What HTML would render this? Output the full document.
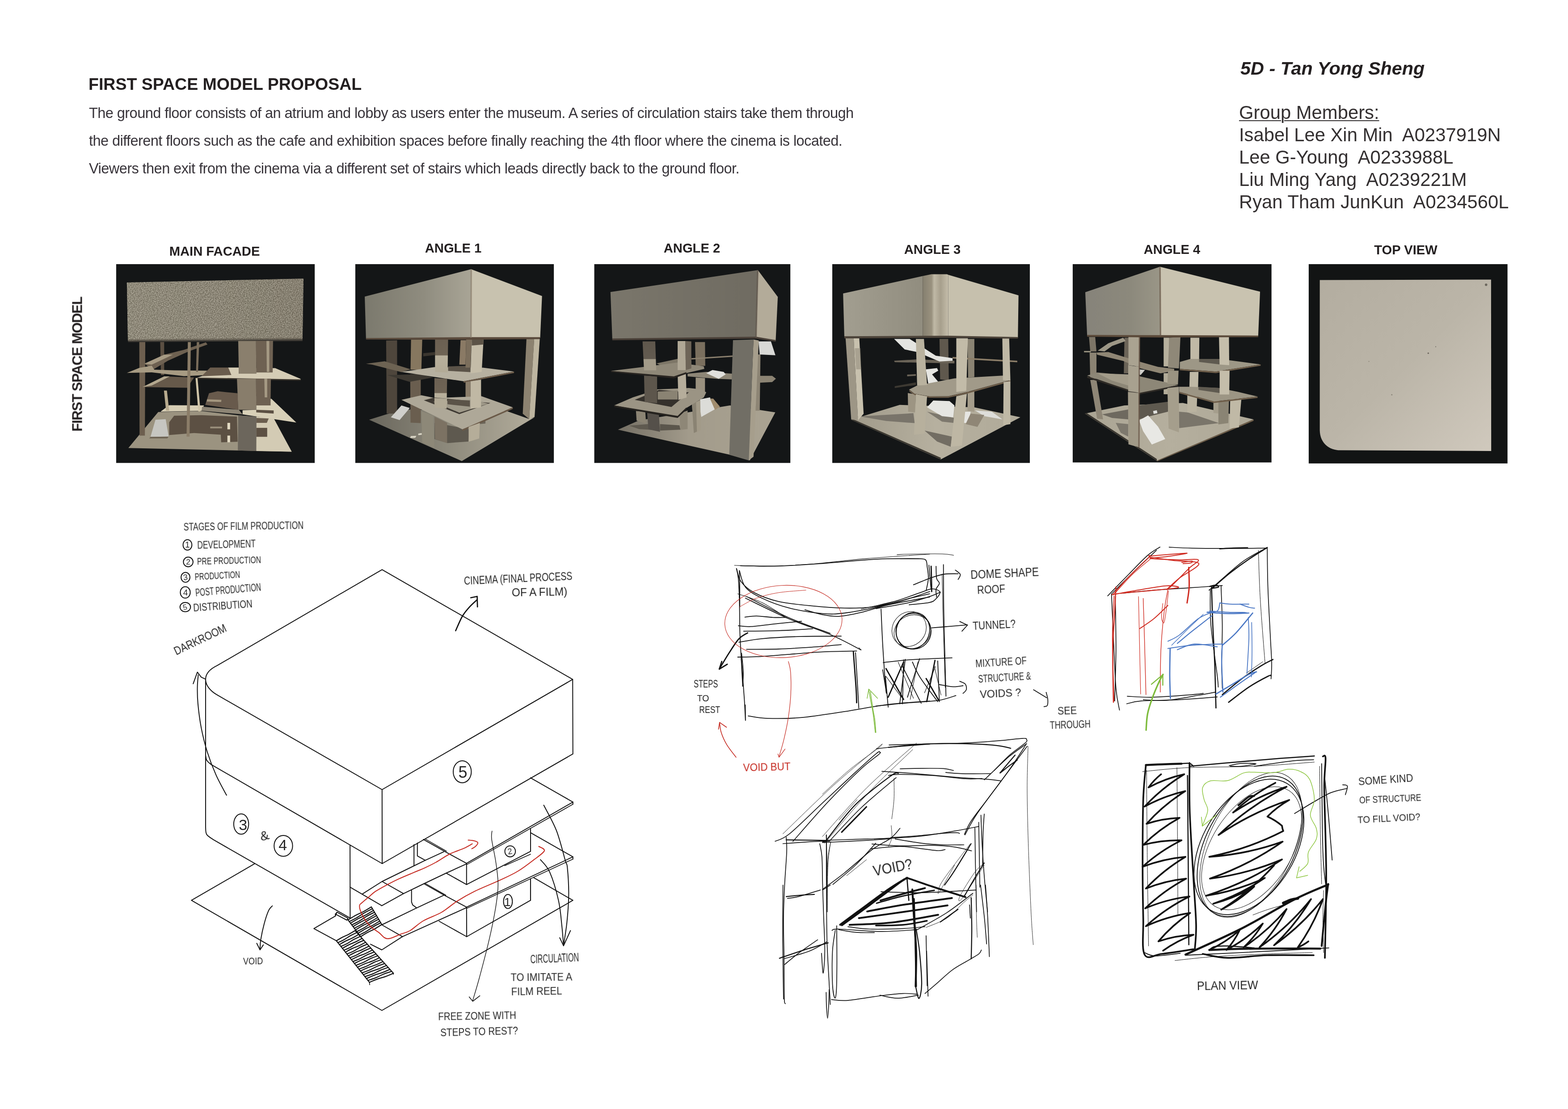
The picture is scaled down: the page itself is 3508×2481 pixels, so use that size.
<!DOCTYPE html>
<html lang="en">
<head>
<meta charset="utf-8">
<title>First Space Model Proposal</title>
<style>
html,body{margin:0;padding:0;background:#fff;}
body{width:3508px;height:2481px;position:relative;font-family:"Liberation Sans",sans-serif;color:#231f20;}
#page{position:absolute;left:0;top:0;width:3508px;height:2481px;overflow:hidden;background:#fff;}
.t{position:absolute;white-space:nowrap;margin:0;padding:0;line-height:1;will-change:transform;}
svg text{will-change:transform;}
.b{font-weight:bold;}
.lab{font-weight:bold;font-size:29.2px;text-align:center;width:400px;}
svg{position:absolute;overflow:hidden;display:block;}
</style>
</head>
<body>
<div id="page">

<h1 class="t b" style="left:198px;top:168px;font-size:37.5px;line-height:40px;">FIRST SPACE MODEL PROPOSAL</h1>
<p class="t" style="color:#38343a;left:199px;top:222.3px;font-size:32.6px;line-height:62.2px;letter-spacing:-0.59px;">The ground floor consists of an atrium and lobby as users enter the museum. A series of circulation stairs take them through<br>the different floors such as the cafe and exhibition spaces before finally reaching the 4th floor where the cinema is located.<br>Viewers then exit from the cinema via a different set of stairs which leads directly back to the ground floor.</p>
<div class="t b" style="left:2775px;top:127.5px;font-size:41.4px;line-height:50px;font-style:italic;">5D - Tan Yong Sheng</div>
<div class="t" style="color:#343031;left:2772.3px;top:227px;font-size:41.8px;line-height:50px;"><span style="text-decoration:underline;text-decoration-thickness:2px;text-underline-offset:3px;">Group Members:</span><br>Isabel Lee Xin Min&nbsp; A0237919N<br>Lee G-Young&nbsp; A0233988L<br>Liu Ming Yang&nbsp; A0239221M<br>Ryan Tham JunKun&nbsp; A0234560L</div>
<div class="t lab" style="left:280px;top:547.5px;">MAIN FACADE</div>
<div class="t lab" style="left:814px;top:541.4px;">ANGLE 1</div>
<div class="t lab" style="left:1348px;top:541px;">ANGLE 2</div>
<div class="t lab" style="left:1886px;top:544px;">ANGLE 3</div>
<div class="t lab" style="left:2422px;top:544px;">ANGLE 4</div>
<div class="t lab" style="left:2945px;top:545px;">TOP VIEW</div>
<div class="t b" style="left:22.5px;top:799.5px;width:300px;text-align:center;font-size:31px;letter-spacing:-1.3px;transform:rotate(-90deg);transform-origin:50% 50%;">FIRST SPACE MODEL</div>

<svg style="left:256px;top:587px;width:452px;height:452px;" viewBox="0 0 1624 1624">
<defs>
<filter id="grain" x="0" y="0" width="100%" height="100%" color-interpolation-filters="sRGB">
<feTurbulence type="fractalNoise" baseFrequency="0.16" numOctaves="2" seed="3" result="n"/>
<feColorMatrix in="n" type="matrix" values="1.5 0 0 0 -0.2  1.5 0 0 0 -0.225  1.5 0 0 0 -0.285  0 0 0 0 0.45" result="g"/>
<feComposite in="g" in2="SourceGraphic" operator="in" result="g2"/>
<feMerge><feMergeNode in="SourceGraphic"/><feMergeNode in="g2"/></feMerge>
</filter>
<linearGradient id="p1box" x1="0" y1="0" x2="1" y2="0"><stop offset="0" stop-color="#938e7f"/><stop offset="0.5" stop-color="#8c8778"/><stop offset="1" stop-color="#827c6d"/></linearGradient>
</defs>
<rect x="14" y="14" width="1596" height="1598" fill="#141617"/>
<!-- ground -->
<polygon points="112,1492 352,1203 700,1195 1000,1230 1275,1250 1425,1522" fill="#9b9380"/>
<polygon points="1140,1240 1280,1252 1425,1522 1140,1516" fill="#d3cbb4"/>
<polygon points="370,1200 700,1193 720,1150 440,1148" fill="#d6cdb4"/>
<polygon points="440,1285 480,1232 700,1228 985,1240 990,1442 858,1446 855,1385 640,1372 440,1388" fill="#5c5043"/>
<polygon points="1140,1330 1228,1330 1228,1402 1140,1402" fill="#5c5043"/>
<polygon points="1140,1250 1240,1255 1225,1290 1140,1290" fill="#6a5d4e"/>
<rect x="908" y="1290" width="22" height="52" fill="#e2dac2"/>
<rect x="908" y="1392" width="22" height="54" fill="#e2dac2"/>
<rect x="770" y="1320" width="95" height="14" fill="#9a8f7b"/>
<polygon points="330,1265 412,1260 436,1400 290,1402" fill="#c6c6c1"/>
<polygon points="290,1402 436,1400 425,1415 280,1415" fill="#6e6455"/>
<!-- columns -->
<polygon points="200,640 248,640 245,1392 202,1392" fill="#6d5f4f"/>
<polygon points="368,640 400,640 400,905 374,905" fill="#5b4f42"/>
<polygon points="398,1030 422,1030 440,1192 415,1192" fill="#b8ab8f"/>
<!-- ramps / slabs left -->
<polygon points="240,815 400,742 560,702 735,642 748,660 600,714 430,790 310,862" fill="#6e6151"/>
<polygon points="240,815 400,742 470,742 300,822" fill="#a79b84"/>
<polygon points="100,888 200,848 300,830 320,862 480,868 750,870 745,905 560,914 300,884" fill="#a79b83"/>
<polygon points="225,1002 400,916 640,925 585,1008" fill="#66594a"/>
<polygon points="225,1002 400,916 445,916 300,990" fill="#b3a88f"/>
<!-- lower slab -->
<polygon points="730,1145 760,1052 830,1036 990,1052 995,1185 860,1165" fill="#685a4c"/>
<polygon points="745,1100 860,1105 858,1122 742,1118" fill="#a4977f"/>
<polygon points="705,1160 1000,1185 1030,1222 700,1192" fill="#8d8575"/>
<polygon points="1030,1188 1140,1185 1140,1075 1262,1097 1462,1287 1030,1222" fill="#d8d0b8"/>
<polygon points="1140,1118 1250,1118 1255,1150 1140,1150" fill="#6a5d4e"/>
<polygon points="1140,1185 1280,1190 1280,1215 1140,1205" fill="#5c5043"/>
<!-- upper slab right -->
<polygon points="700,915 770,845 920,845 945,915" fill="#6a5c4d"/>
<polygon points="915,845 1000,845 1000,895 1140,895 1140,850 1292,850 1496,936 1496,946 660,928 700,915 940,905" fill="#d5ccb5"/>
<polygon points="660,926 1496,940 1496,950 660,936" fill="#3a342c"/>
<!-- right wall + big column -->
<polygon points="1138,630 1275,630 1272,885 1140,885" fill="#6e6152"/>
<polygon points="1222,630 1245,630 1245,880 1225,880" fill="#a59a84"/>
<polygon points="995,630 1138,630 1140,895 1000,895" fill="#8a7f6d"/>
<polygon points="1138,935 1258,935 1255,1150 1140,1150" fill="#6e6152"/>
<polygon points="1205,935 1228,935 1228,1085 1208,1085" fill="#a59a84"/>
<polygon points="985,935 1138,935 1140,1185 995,1185" fill="#887d6b"/>
<polygon points="995,1230 1142,1240 1140,1516 992,1512" fill="#6c665c"/>
<!-- thin posts -->
<polygon points="590,640 614,640 604,1400 580,1400" fill="#8b7d68"/>
<polygon points="662,640 682,640 672,880 656,880" fill="#7a6d5b"/>
<polygon points="652,930 668,930 692,1197 674,1197" fill="#d0c5a9"/>
<!-- box -->
<polygon points="100,162 1520,130 1512,618 108,630" fill="url(#p1box)" filter="url(#grain)"/>
<polygon points="108,618 1512,606 1512,632 110,640" fill="#5e574b" opacity="0.6"/>
</svg>

<svg style="left:791px;top:587px;width:452px;height:452px;" viewBox="0 0 1624 1624">
<defs>
<linearGradient id="p2l" x1="0" y1="0" x2="1" y2="0"><stop offset="0" stop-color="#7b796d"/><stop offset="0.55" stop-color="#8f8c7f"/><stop offset="1" stop-color="#a9a596"/></linearGradient>
<linearGradient id="p2g" x1="0" y1="0" x2="1" y2="0"><stop offset="0" stop-color="#6a675d"/><stop offset="0.5" stop-color="#8f8b7d"/><stop offset="1" stop-color="#b3ad9c"/></linearGradient>
<linearGradient id="p2c" x1="0" y1="0" x2="0" y2="1"><stop offset="0" stop-color="#6b6052"/><stop offset="0.48" stop-color="#6f6455"/><stop offset="0.5" stop-color="#b8b09c"/><stop offset="1" stop-color="#b2aa96"/></linearGradient>
</defs>
<rect x="14" y="14" width="1596" height="1598" fill="#141617"/>
<!-- ground -->
<polygon points="125,1265 390,1182 1230,1195 1410,1258 1455,1245 870,1597" fill="url(#p2g)"/>
<polygon points="650,1290 930,1340 925,1440 755,1452 650,1420" fill="#5e594f"/>
<polygon points="1010,1270 1060,1265 1060,1295 1010,1300" fill="#6b6458"/>
<polygon points="460,1396 505,1394 496,1410 455,1411" fill="#d8d4c4"/>
<polygon points="520,1376 548,1372 548,1386 520,1389" fill="#d8d4c4"/>
<!-- back columns -->
<polygon points="262,628 350,626 350,1215 266,1215" fill="#4e463c"/>
<polygon points="462,622 552,622 545,862 458,862" fill="#86775f"/>
<polygon points="455,900 540,900 540,1292 458,1288" fill="#6a5e4f"/>
<polygon points="860,625 905,625 900,822 850,822" fill="#8a7a65"/>
<polygon points="560,730 655,720 655,745 560,755" fill="#3a352e"/>
<!-- stairs -->
<polygon points="300,1245 385,1150 452,1170 370,1267" fill="#cfcfcb"/>
<!-- ramp left -->
<polygon points="100,815 250,795 460,860 385,882 150,822" fill="#6d6353"/>
<polygon points="270,905 540,900 640,925 450,960" fill="#3d3932"/>
<!-- upper slab -->
<polygon points="385,880 650,842 1040,846 1290,878 885,956" fill="#b6b0a0"/>
<polygon points="760,836 940,830 940,882 760,872" fill="#5b5348"/>
<polygon points="885,956 1290,878 1290,889 885,967" fill="#6b5a48"/>
<!-- center column upper -->
<polygon points="655,615 760,615 756,886 655,880" fill="url(#p2c)"/>
<!-- right front column upper -->
<polygon points="905,615 950,615 940,846 900,846" fill="#7b6e5c"/>
<polygon points="950,615 1045,615 1030,880 940,892" fill="#c4bca8"/>
<polygon points="950,615 1045,615 1043,660 950,668" fill="#5c5347"/>
<!-- mid columns -->
<polygon points="650,930 752,936 748,1176 650,1166" fill="url(#p2c)"/>
<polygon points="900,962 940,956 940,1082 900,1082" fill="#8a7d6a"/>
<polygon points="940,956 1025,942 1025,1166 940,1176" fill="#c0b8a4"/>
<!-- lower slab -->
<polygon points="385,1105 545,1068 650,1090 1030,1076 1280,1165 875,1342" fill="#aea898"/>
<polygon points="565,1108 650,1086 1100,1130 850,1220" fill="#3f3a33"/>
<polygon points="640,1120 940,1102 1085,1135 850,1208" fill="#9e9888"/>
<polygon points="755,1100 935,1110 935,1160 755,1140" fill="#5b5348"/>
<polygon points="875,1342 1280,1165 1280,1178 875,1356" fill="#6b5a48"/>
<polygon points="650,1090 752,1096 748,1176 650,1166" fill="#b2aa96"/>
<polygon points="940,1080 1025,1070 1025,1166 940,1176" fill="#c0b8a4"/>
<!-- low columns -->
<polygon points="650,1240 752,1290 752,1452 655,1420" fill="#7c7263"/>
<polygon points="925,1322 1015,1290 1010,1416 925,1442" fill="#b5ad99"/>
<polygon points="545,1195 640,1232 650,1492 552,1446" fill="#8d8878"/>
<!-- right tall wall -->
<polygon points="1390,615 1452,615 1412,1260 1360,1216" fill="#8c8270"/>
<polygon points="1452,615 1497,615 1455,1242 1412,1260" fill="#bdb5a0"/>
<!-- box -->
<polygon points="90,275 945,55 945,606 100,613" fill="url(#p2l)"/>
<polygon points="945,55 1515,270 1500,606 945,606" fill="#c8c2af"/>
<polygon points="100,608 945,601 1500,601 1496,616 945,622 100,620" fill="#5a4a3c"/>
<polygon points="940,55 952,58 950,606 938,606" fill="#8a7d6c" opacity="0.7"/>
</svg>

<svg style="left:1324px;top:587px;width:452px;height:452px;" viewBox="0 0 1624 1624">
<defs>
<linearGradient id="p3f" x1="0" y1="0" x2="1" y2="0"><stop offset="0" stop-color="#7a766b"/><stop offset="1" stop-color="#6f6b61"/></linearGradient>
<linearGradient id="p3g" x1="0" y1="0" x2="1" y2="0"><stop offset="0" stop-color="#746f64"/><stop offset="0.45" stop-color="#a29b8b"/><stop offset="1" stop-color="#aaa392"/></linearGradient>
<linearGradient id="p3c" x1="0" y1="0" x2="0" y2="1"><stop offset="0" stop-color="#5f574c"/><stop offset="0.6" stop-color="#635b50"/><stop offset="0.62" stop-color="#a39b89"/><stop offset="1" stop-color="#a39b89"/></linearGradient>
</defs>
<rect x="20" y="14" width="1576" height="1598" fill="#141617"/>
<!-- ground -->
<polygon points="210,1345 380,1270 1110,1150 1475,1205 1270,1592 1105,1545" fill="url(#p3g)"/>
<polygon points="300,1312 450,1300 548,1350 380,1340" fill="#5f5a50"/>
<polygon points="548,1300 705,1310 712,1345 548,1352" fill="#5b564c"/>
<!-- back right column / balcony / stairs -->
<polygon points="1330,740 1356,740 1350,1192 1315,1192" fill="#8d8575"/>
<polygon points="1325,912 1450,912 1480,935 1450,962 1325,968" fill="#8b8373"/>
<polygon points="1340,635 1440,635 1476,746 1350,740" fill="#d9d9d6"/>
<!-- back columns -->
<polygon points="830,640 910,640 912,832 835,832" fill="#7a6f5e"/>
<polygon points="835,925 910,930 910,1042 835,1032" fill="#9a917f"/>
<polygon points="800,770 1135,748 1135,759 800,781" fill="#8b806e"/>
<!-- mid right slab and stairs -->
<polygon points="770,895 920,880 1130,895 1130,940 1010,936 770,916" fill="#8d8676"/>
<polygon points="920,890 970,865 1060,880 1076,900 1020,936" fill="#e0e0dc"/>
<!-- lower stairs -->
<polygon points="870,1100 950,1085 990,1180 880,1242 865,1150" fill="#dcdcd8"/>
<polygon points="950,1095 976,1095 1030,1160 990,1186" fill="#a08c6e"/>
<!-- low columns -->
<polygon points="355,1195 430,1200 436,1296 360,1272" fill="#8b8474"/>
<polygon points="705,1215 770,1190 770,1340 712,1346" fill="#8e8777"/>
<polygon points="805,1140 872,1105 876,1350 820,1372" fill="#a29a88"/>
<polygon points="805,1140 838,1122 845,1360 820,1372" fill="#8a8373"/>
<!-- lower slab -->
<polygon points="180,1150 330,1085 530,1020 780,1010 880,1020 920,1045 900,1086 760,1170 690,1242" fill="#9b9484"/>
<polygon points="345,1105 540,1025 780,1045 640,1162" fill="#35312c"/>
<polygon points="530,1038 690,1030 690,1102 530,1102" fill="#8a8373"/>
<polygon points="180,1150 690,1234 760,1166 762,1182 690,1250 180,1162" fill="#26231f"/>
<polygon points="445,1210 540,1226 548,1362 455,1342" fill="#55504a"/>
<!-- mid columns -->
<polygon points="420,910 525,916 525,1132 425,1122" fill="#5d564c"/>
<polygon points="690,900 756,895 762,1086 696,1106" fill="#b5ad9b"/>
<!-- upper slab -->
<polygon points="520,812 690,775 800,790 800,830 600,850" fill="#7d7667"/>
<polygon points="155,872 420,840 690,805 900,835 905,856 760,890 660,926" fill="#8f8878"/>
<polygon points="155,872 660,916 760,882 760,896 660,932 155,881" fill="#2a2622"/>
<!-- upper columns -->
<polygon points="408,635 510,635 518,868 420,868" fill="url(#p3c)"/>
<polygon points="752,632 800,635 800,852 755,866" fill="#6e6558"/>
<polygon points="690,632 752,632 755,866 690,866" fill="#b0a896"/>
<!-- big right wall -->
<polygon points="1300,620 1342,628 1300,1562 1260,1592" fill="#a69e8c"/>
<polygon points="1135,625 1300,620 1262,1592 1105,1546" fill="#716e65"/>
<!-- box -->
<polygon points="150,238 1335,62 1320,606 165,621" fill="url(#p3f)"/>
<polygon points="1335,62 1495,278 1478,631 1320,606" fill="#b3ab99"/>
<polygon points="165,612 1320,597 1478,624 1478,637 1320,613 165,626" fill="#4a4038"/>
<polygon points="1328,62 1340,64 1326,606 1314,606" fill="#5c5248" opacity="0.7"/>
</svg>

<svg style="left:1857px;top:587px;width:452px;height:452px;" viewBox="0 0 1624 1624">
<defs>
<linearGradient id="p4l" x1="0" y1="0" x2="1" y2="0"><stop offset="0" stop-color="#a29e90"/><stop offset="1" stop-color="#918d7f"/></linearGradient>
<linearGradient id="p4k" x1="0" y1="0" x2="1" y2="0"><stop offset="0" stop-color="#857f6f"/><stop offset="0.35" stop-color="#9a927f"/><stop offset="0.45" stop-color="#c0b9a6"/><stop offset="0.7" stop-color="#a79f8c"/><stop offset="1" stop-color="#c4bdaa"/></linearGradient>
<linearGradient id="p4g" x1="0" y1="0" x2="1" y2="0"><stop offset="0" stop-color="#a09a8a"/><stop offset="0.5" stop-color="#b6b09f"/><stop offset="1" stop-color="#b0aa99"/></linearGradient>
</defs>
<rect x="18" y="14" width="1588" height="1598" fill="#141617"/>
<!-- ground -->
<polygon points="170,1265 560,1145 1160,1165 1530,1245 890,1584" fill="url(#p4g)"/>
<polygon points="170,1265 890,1584 890,1570 180,1258" fill="#3a362f"/>
<polygon points="240,1238 670,1212 680,1292 450,1275" fill="#79746a"/>
<polygon points="760,1352 980,1400 970,1482 860,1440" fill="#726d63"/>
<polygon points="780,1200 1000,1250 1080,1300 900,1280" fill="#7d786d"/>
<!-- back columns -->
<polygon points="880,615 950,615 955,950 885,940" fill="#5f584d"/>
<polygon points="1105,615 1160,615 1160,922 1110,926" fill="#8a8373"/>
<polygon points="1105,1040 1160,1035 1160,1202 1105,1192" fill="#a59d8b"/>
<polygon points="625,1050 690,1060 686,1206 628,1200" fill="#9d9583"/>
<!-- thin slabs -->
<polygon points="515,790 700,780 1000,790 1000,812 520,802" fill="#6b6458"/>
<polygon points="520,995 690,965 690,985 520,1010" fill="#3d3932"/>
<polygon points="620,902 690,898 690,912 620,916" fill="#6b6458"/>
<!-- stairs -->
<polygon points="515,615 640,615 850,750 985,770 985,790 880,797 700,720 600,700" fill="#e4e4e0"/>
<polygon points="770,860 860,850 870,870 820,900 870,960 790,976" fill="#e6e6e2"/>
<polygon points="780,1165 830,1110 960,1115 1000,1150 990,1246 900,1236" fill="#e6e6e2"/>
<polygon points="1080,1200 1130,1200 1120,1292 1075,1290" fill="#e6e6e2"/>
<polygon points="1165,1190 1300,1200 1386,1262 1240,1236" fill="#dededa"/>
<polygon points="1130,1215 1240,1226 1185,1322 1090,1300" fill="#8f8676"/>
<!-- mid slab -->
<polygon points="635,1022 700,990 1000,932 1390,910 1450,946 1100,1042 950,1076 800,1077 680,1056" fill="#a19a89"/>
<polygon points="635,1026 680,1056 800,1078 950,1077 1100,1043 1450,947 1450,958 1100,1055 950,1088 800,1088 680,1066 640,1040" fill="#6f5e4a"/>
<polygon points="985,760 1505,790 1505,803 985,773" fill="#8b7d68"/>
<!-- columns -->
<polygon points="690,615 755,615 780,985 700,990" fill="#b9b29f"/>
<polygon points="690,1060 780,1076 760,1376 675,1386" fill="#b7b09d"/>
<polygon points="1015,610 1108,610 1095,1032 1015,1042" fill="#c2bba8"/>
<polygon points="1015,1076 1100,1056 1060,1472 970,1482" fill="#beb7a4"/>
<polygon points="1385,612 1440,612 1450,950 1390,946" fill="#bfb8a5"/>
<polygon points="1395,962 1450,956 1450,1300 1392,1310" fill="#bfb8a5"/>
<!-- left wall -->
<polygon points="125,610 190,610 225,1270 170,1262" fill="#9d9686"/>
<polygon points="190,610 235,610 270,1216 225,1270" fill="#c8c1ae"/>
<polygon points="200,690 245,690 250,860 210,860" fill="#8a8373" opacity="0.5"/>
<!-- box -->
<polygon points="105,250 745,110 745,592 115,600" fill="url(#p4l)"/>
<polygon points="745,110 815,95 940,95 950,100 950,594 745,592" fill="url(#p4k)"/>
<polygon points="950,100 1515,265 1510,606 950,596" fill="#c6c0ad"/>
<polygon points="115,594 950,589 1510,600 1510,613 950,606 115,611" fill="#4d443a"/>
</svg>

<svg style="left:2396px;top:587px;width:452px;height:452px;" viewBox="0 0 1624 1624">
<defs>
<linearGradient id="p5l" x1="0" y1="0" x2="1" y2="0"><stop offset="0" stop-color="#86837a"/><stop offset="0.6" stop-color="#8c897c"/><stop offset="1" stop-color="#9a9687"/></linearGradient>
<linearGradient id="p5g" x1="0" y1="0" x2="1" y2="0"><stop offset="0" stop-color="#aaa493"/><stop offset="0.5" stop-color="#b5af9e"/><stop offset="1" stop-color="#aea897"/></linearGradient>
</defs>
<rect x="14" y="14" width="1598" height="1594" fill="#141617"/>
<!-- ground -->
<polygon points="112,1215 430,1150 900,1130 1468,1262 690,1594" fill="url(#p5g)"/>
<polygon points="112,1215 690,1594 690,1580 125,1210" fill="#3a362f"/>
<polygon points="690,1594 1468,1262 1468,1274 692,1600" fill="#6f5e4a"/>
<polygon points="250,1222 460,1182 462,1262 330,1250" fill="#6e695f"/>
<polygon points="545,1150 780,1120 780,1200 660,1230 548,1262" fill="#5e594f"/>
<polygon points="868,1200 940,1206 1190,1292 870,1332" fill="#7a756a"/>
<polygon points="360,1290 460,1300 460,1400 400,1370" fill="#7d786d"/>
<!-- far-left columns -->
<polygon points="145,600 195,600 205,716 155,716" fill="#7d7566"/>
<polygon points="150,725 205,725 205,936 155,936" fill="#8b8373"/>
<polygon points="155,945 205,945 258,1262 210,1256" fill="#8e8676"/>
<polygon points="430,605 466,605 466,892 425,892" fill="#6b6458"/>
<polygon points="215,710 300,650 420,605 440,632 330,672 270,716" fill="#9d9786"/>
<polygon points="105,712 160,712 160,723 105,723" fill="#9a9482"/>
<!-- back right columns -->
<polygon points="960,605 1032,605 1030,796 960,796" fill="#c0b9a6"/>
<polygon points="955,880 1025,880 1022,1002 952,1002" fill="#bfb8a5"/>
<polygon points="935,1060 1015,1066 1010,1200 935,1206" fill="#bab3a0"/>
<polygon points="1145,1110 1190,1110 1190,1215 1145,1210" fill="#a59e8c"/>
<polygon points="1185,1116 1270,1110 1265,1292 1185,1302" fill="#8a8474"/>
<polygon points="1280,1100 1370,1096 1350,1326 1275,1336" fill="#c0b9a6"/>
<!-- center back -->
<polygon points="745,605 790,605 790,836 745,836" fill="#b7b09d"/>
<polygon points="745,890 790,890 790,1060 745,1060" fill="#b2ab98"/>
<!-- right upper slab -->
<polygon points="875,800 960,776 1195,776 1525,820 1165,878 875,856" fill="#9d9786"/>
<polygon points="1030,776 1195,776 1195,820 1030,800" fill="#5f5a50"/>
<polygon points="875,856 1165,878 1525,820 1525,831 1165,890 875,867" fill="#6f5e4a"/>
<polygon points="1190,600 1270,600 1272,826 1195,821" fill="#c5beab"/>
<!-- right lower slab -->
<polygon points="870,1000 960,1000 1190,1010 1340,1040 1500,1078 1150,1118 870,1040" fill="#9c9584"/>
<polygon points="1025,1000 1195,1010 1195,1050 1025,1025" fill="#5f5a50"/>
<polygon points="870,1040 1150,1118 1500,1078 1500,1090 1150,1130 870,1052" fill="#6f5e4a"/>
<polygon points="1195,870 1275,870 1272,1062 1195,1062" fill="#c4bdaa"/>
<!-- ramp -->
<polygon points="205,725 300,720 460,770 560,800 700,840 830,855 830,871 720,892 560,852 420,792 210,742" fill="#8f8674"/>
<!-- mid-left slab -->
<polygon points="130,910 210,885 555,916 860,986 545,1056" fill="#8d8777"/>
<polygon points="215,892 460,900 460,990 330,950" fill="#a39c8a"/>
<polygon points="130,914 545,1050 860,986 860,999 545,1063 130,928" fill="#2f2b26"/>
<!-- center columns -->
<polygon points="790,605 880,600 868,852 780,846" fill="#8f8878"/>
<polygon points="780,870 865,870 860,982 775,976" fill="#9a9381"/>
<polygon points="775,1010 868,1000 868,1366 785,1336" fill="#a59e8c"/>
<!-- stairs -->
<polygon points="548,1270 620,1230 700,1320 758,1420 650,1464 580,1356" fill="#e8e8e4"/>
<polygon points="660,1195 690,1188 695,1212 665,1218" fill="#e0e0dc"/>
<polygon points="548,860 595,865 560,905 548,900" fill="#cfcfcb"/>
<!-- front-left big column -->
<polygon points="462,600 552,600 550,836 462,826" fill="#aaa391"/>
<polygon points="460,826 548,840 548,1046 460,1036" fill="#a8a18f"/>
<polygon points="458,1040 545,1050 545,1486 462,1462" fill="#a19a88"/>
<polygon points="545,600 556,600 552,1486 541,1486" fill="#6a5848" opacity="0.8"/>
<!-- box -->
<polygon points="115,240 715,35 720,590 130,588" fill="url(#p5l)"/>
<polygon points="715,35 1520,235 1505,592 720,590" fill="#c9c3b0"/>
<polygon points="130,583 720,585 1505,588 1505,601 720,604 130,597" fill="#5b4a3a"/>
<polygon points="710,36 722,38 726,590 714,590" fill="#6a5848" opacity="0.7"/>
</svg>

<svg style="left:2924px;top:587px;width:452px;height:452px;" viewBox="0 0 1624 1624">
<defs>
<linearGradient id="p6c" x1="0" y1="0" x2="1" y2="1"><stop offset="0" stop-color="#b3ada0"/><stop offset="0.5" stop-color="#bbb5a8"/><stop offset="1" stop-color="#d0c9bd"/></linearGradient>
</defs>
<rect x="14" y="14" width="1598" height="1602" fill="#121414"/>
<path d="M103,142 L1480,138 L1481,1516 L250,1510 C160,1500 105,1440 103,1350 Z" fill="url(#p6c)"/>
<circle cx="1440" cy="180" r="10" fill="#6b665d"/>
<circle cx="975" cy="730" r="6" fill="#6b665d"/>
<circle cx="1035" cy="678" r="4" fill="#77726a"/>
<circle cx="498" cy="796" r="4" fill="#8a8478"/>
<circle cx="682" cy="1064" r="5" fill="#8a8478"/>
</svg>

<svg style="left:340px;top:1120px;width:1140px;height:1300px;" viewBox="340 1120 1140 1300" fill="none" stroke-linecap="round" stroke-linejoin="round" font-family="'Liberation Sans',sans-serif" stroke="none">
<path d="M485.9,1488.9 L854.8,1274.4 L1281.2,1519.9 L854.8,1766.5 L485.9,1554.7 C468.7,1544.8 460,1532 460,1519.7 C460,1507.1 468.7,1497.2 485.9,1488.9" stroke="#111" stroke-width="2"/>
<path d="M1281.2,1519.9 L1281.7,1686.7 L855,1932 L854.8,1766.5" stroke="#111" stroke-width="2"/>
<path d="M460,1689.6 C460.4,1691.5 460.6,1697.3 462.5,1700.7 C464.4,1704.1 470.1,1708.3 471.6,1709.8 L855,1932" stroke="#111" stroke-width="2"/>
<path d="M460,1519.7 L460,1850.9  C460.4,1853.6 459.4,1862.2 462.5,1866.9 C465.6,1871.7 475.8,1877.2 478.5,1879.2 L783.4,2053.9" stroke="#111" stroke-width="2"/>
<path d="M783.1,1891.2 L783.4,2053.9" stroke="#111" stroke-width="2"/>
<path d="M569.9,1932.2 L428.3,2014.2 L854.4,2260.5 L1281.7,2014.2 L1194.3,1963.7" stroke="#111" stroke-width="2"/>
<path d="M750.2,2049.3 L702.2,2077.3 L752.6,2104.7" stroke="#111" stroke-width="2"/>
<path d="M829,2112.3 L854.2,2125 L900.4,2095.4" stroke="#111" stroke-width="2"/>
<path d="M900.4,2095.4 L1043.8,2030.5" stroke="#111" stroke-width="2"/>
<path d="M854.2,2069 L900.4,2095.4" stroke="#111" stroke-width="2"/>
<path d="M750.2,2049.3 L753.9,2040.6 L778.5,2054.2 L776,2058.5 L750.2,2044.9" stroke="#111" stroke-width="2"/>
<path d="M753.9,2040.6 L750.2,2044.9 L750.2,2049.3" stroke="#111" stroke-width="1.6"/>
<path d="M1186.9,1740.1 L1281.7,1794.3 L1281.7,1799.2" stroke="#111" stroke-width="2"/>
<path d="M1281.7,1794.3 L1043.8,1931.4" stroke="#111" stroke-width="2"/>
<path d="M1281.7,1799.2 L1045,1933.9" stroke="#111" stroke-width="1.6"/>
<path d="M947.1,1877.9 L995.1,1904.9 L1043.8,1931.4" stroke="#111" stroke-width="2"/>
<path d="M950.8,1876.6 L998.8,1904.3" stroke="#111" stroke-width="1.6"/>
<path d="M998.8,1953.6 L1043.8,1978.8 L1043.8,1932" stroke="#111" stroke-width="2"/>
<path d="M1043.8,1978.8 L1187,1904.7 L1187,1854.2" stroke="#111" stroke-width="2"/>
<path d="M1129.1,1936.7 L1187,1910.9" stroke="#111" stroke-width="1.6"/>
<path d="M926.2,1889.6 L926.2,1937" stroke="#111" stroke-width="2"/>
<path d="M933.8,1885.9 L933.8,1914.8 L951.4,1924.6" stroke="#111" stroke-width="2"/>
<path d="M810.9,1999.8 L854.8,1972 L926.2,1937 L951.4,1924.6 L992.7,1905.6" stroke="#111" stroke-width="2"/>
<path d="M854.2,2026.2 L902.8,1999.1 L948.4,1977 L998.8,1953 L1043.8,1932.6" stroke="#111" stroke-width="2"/>
<path d="M854.8,1972 L902.8,1999.1" stroke="#111" stroke-width="2"/>
<path d="M783.1,1984.7 L854.2,2026.2" stroke="#111" stroke-width="2"/>
<path d="M1187,1862.8 L1281.7,1916.9 L1281.7,1921.9" stroke="#111" stroke-width="2"/>
<path d="M1281.7,1916.9 L1043.8,2029.3" stroke="#111" stroke-width="2"/>
<path d="M1281.7,1921.9 L1045,2031.8" stroke="#111" stroke-width="1.6"/>
<path d="M948.4,1977 L995.1,2003.4 L1043.8,2029.3" stroke="#111" stroke-width="2"/>
<path d="M951.4,1976.4 L997.6,2002.8" stroke="#111" stroke-width="1.6"/>
<path d="M982.5,2061 L1044.1,2095.5 L1043.8,2029.9" stroke="#111" stroke-width="2"/>
<path d="M1044.1,2095.5 L1186.9,2014.2 L1186.9,1966.2" stroke="#111" stroke-width="2"/>
<path d="M920.7,1991.1 L920.7,2017.6 L923.1,2024.4 L932.3,2031.2" stroke="#111" stroke-width="2"/>
<path d="M854.2,2069 L932.3,2031.2 L992.7,2002.8" stroke="#111" stroke-width="2"/>
<path d="M1187,1966.3 L1187,2014.3" stroke="#111" stroke-width="2"/>
<path d="M778.5,2057.9 C781.4,2056.2 790,2050.8 795.8,2047.7 C801.5,2044.6 807.2,2042.5 813,2039.4 C818.9,2036.3 827.9,2030.7 830.8,2028.9" stroke="#111" stroke-width="2.3"/>
<path d="M781.3,2061.6 C784.2,2060.2 792.7,2056.2 798.4,2052.9 C804.1,2049.6 809.8,2045.2 815.6,2041.9 C821.3,2038.6 830.2,2034.4 833.2,2032.9" stroke="#111" stroke-width="2.3"/>
<path d="M784.2,2065.4 C787,2063.7 795.5,2058.4 801.1,2055.3 C806.8,2052.3 812.3,2050.2 818.1,2047.1 C823.8,2044.1 832.6,2038.5 835.5,2036.8" stroke="#111" stroke-width="2.3"/>
<path d="M787,2069.1 C789.8,2067.7 798.2,2063.8 803.8,2060.5 C809.4,2057.3 814.9,2053 820.6,2049.7 C826.2,2046.4 835,2042.2 837.9,2040.8" stroke="#111" stroke-width="2.3"/>
<path d="M789.8,2072.9 C792.6,2071.2 800.9,2066 806.5,2063 C812,2060 817.4,2057.9 823.1,2054.9 C828.7,2051.9 837.3,2046.4 840.2,2044.7" stroke="#111" stroke-width="2.3"/>
<path d="M792.7,2076.6 C795.4,2075.2 803.6,2071.3 809.1,2068.1 C814.6,2064.9 820,2060.7 825.6,2057.4 C831.1,2054.2 839.7,2050.1 842.5,2048.6" stroke="#111" stroke-width="2.3"/>
<path d="M795.5,2080.4 C798.2,2078.8 806.4,2073.6 811.8,2070.6 C817.2,2067.6 822.6,2065.7 828.1,2062.7 C833.6,2059.6 842.1,2054.3 844.9,2052.6" stroke="#111" stroke-width="2.3"/>
<path d="M798.3,2084.2 C801,2082.8 809.1,2078.9 814.5,2075.8 C819.8,2072.6 825.1,2068.4 830.6,2065.2 C836.1,2062 844.4,2058 847.2,2056.5" stroke="#111" stroke-width="2.3"/>
<path d="M801.2,2087.9 C803.8,2086.3 811.8,2081.2 817.1,2078.2 C822.5,2075.3 827.7,2073.4 833.1,2070.4 C838.5,2067.4 846.8,2062.1 849.6,2060.5" stroke="#111" stroke-width="2.3"/>
<path d="M804,2091.7 C806.6,2090.3 814.5,2086.5 819.8,2083.4 C825.1,2080.3 830.3,2076.1 835.6,2072.9 C841,2069.8 849.2,2065.8 851.9,2064.4" stroke="#111" stroke-width="2.3"/>
<path d="M806.8,2095.4 C809.4,2093.8 817.3,2088.7 822.5,2085.9 C827.7,2083 832.8,2081.1 838.1,2078.2 C843.4,2075.2 851.5,2070 854.2,2068.3" stroke="#111" stroke-width="2.3"/>
<path d="M778.5,2057.9 L806.8,2095.4" stroke="#111" stroke-width="2.2"/>
<path d="M830.8,2028.9 L854.2,2068.3" stroke="#111" stroke-width="2.2"/>
<path d="M752.6,2104.7 C755,2103.3 761.9,2098.9 766.5,2096.5 C771.1,2094.1 775.6,2092.7 780.3,2090.2 C785,2087.8 792.1,2083.3 794.5,2081.9" stroke="#111" stroke-width="2.3"/>
<path d="M756,2108.9 C758.3,2107.8 765.3,2104.8 770,2102.1 C774.7,2099.5 779.3,2095.8 784,2093.2 C788.7,2090.5 796,2087.4 798.4,2086.2" stroke="#111" stroke-width="2.3"/>
<path d="M759.4,2113.1 C761.7,2111.8 768.8,2107.4 773.5,2105.1 C778.3,2102.7 782.9,2101.3 787.7,2098.8 C792.5,2096.4 799.9,2091.9 802.3,2090.6" stroke="#111" stroke-width="2.3"/>
<path d="M762.7,2117.3 C765.1,2116.2 772.3,2113.3 777.1,2110.7 C781.8,2108.1 786.6,2104.4 791.4,2101.8 C796.3,2099.2 803.7,2096 806.2,2094.9" stroke="#111" stroke-width="2.3"/>
<path d="M766.1,2121.6 C768.5,2120.2 775.8,2115.9 780.6,2113.6 C785.4,2111.2 790.2,2109.8 795.1,2107.4 C800,2105.1 807.6,2100.6 810.1,2099.2" stroke="#111" stroke-width="2.3"/>
<path d="M769.4,2125.8 C771.9,2124.7 779.2,2121.8 784.1,2119.2 C789,2116.6 793.9,2113 798.8,2110.4 C803.8,2107.8 811.4,2104.7 814,2103.6" stroke="#111" stroke-width="2.3"/>
<path d="M772.8,2130 C775.3,2128.7 782.7,2124.4 787.7,2122.1 C792.6,2119.8 797.5,2118.4 802.5,2116 C807.6,2113.7 815.3,2109.3 817.9,2107.9" stroke="#111" stroke-width="2.3"/>
<path d="M776.2,2134.2 C778.7,2133.2 786.2,2130.3 791.2,2127.7 C796.2,2125.2 801.2,2121.6 806.2,2119 C811.3,2116.4 819.2,2113.4 821.7,2112.2" stroke="#111" stroke-width="2.3"/>
<path d="M779.5,2138.5 C782,2137.2 789.7,2132.9 794.7,2130.6 C799.8,2128.3 804.8,2127 810,2124.6 C815.1,2122.3 823,2117.9 825.6,2116.6" stroke="#111" stroke-width="2.3"/>
<path d="M782.9,2142.7 C785.4,2141.6 793.1,2138.8 798.3,2136.2 C803.4,2133.7 808.5,2130.1 813.7,2127.6 C818.9,2125 826.9,2122 829.5,2120.9" stroke="#111" stroke-width="2.3"/>
<path d="M786.2,2146.9 C788.8,2145.6 796.6,2141.4 801.8,2139.2 C807,2136.9 812.1,2135.6 817.4,2133.2 C822.6,2130.9 830.7,2126.6 833.4,2125.3" stroke="#111" stroke-width="2.3"/>
<path d="M789.6,2151.1 C792.2,2150.1 800.1,2147.3 805.3,2144.8 C810.6,2142.3 815.7,2138.7 821.1,2136.2 C826.4,2133.7 834.6,2130.7 837.3,2129.6" stroke="#111" stroke-width="2.3"/>
<path d="M792.9,2155.4 C795.6,2154.1 803.6,2149.9 808.9,2147.7 C814.2,2145.4 819.4,2144.1 824.8,2141.8 C830.2,2139.5 838.5,2135.3 841.2,2133.9" stroke="#111" stroke-width="2.3"/>
<path d="M796.3,2159.6 C799,2158.5 807,2155.8 812.4,2153.3 C817.8,2150.8 823,2147.3 828.5,2144.8 C833.9,2142.3 842.3,2139.4 845.1,2138.3" stroke="#111" stroke-width="2.3"/>
<path d="M799.7,2163.8 C802.4,2162.6 810.5,2158.4 815.9,2156.2 C821.4,2154 826.7,2152.7 832.2,2150.4 C837.7,2148.2 846.2,2143.9 849,2142.6" stroke="#111" stroke-width="2.3"/>
<path d="M803,2168 C805.8,2167 814,2164.3 819.5,2161.8 C824.9,2159.4 830.3,2155.9 835.9,2153.4 C841.5,2150.9 850,2148 852.9,2146.9" stroke="#111" stroke-width="2.3"/>
<path d="M806.4,2172.3 C809.1,2171 817.5,2166.9 823,2164.7 C828.5,2162.5 834,2161.3 839.6,2159 C845.2,2156.8 853.9,2152.6 856.7,2151.3" stroke="#111" stroke-width="2.3"/>
<path d="M809.7,2176.5 C812.5,2175.5 820.9,2172.8 826.5,2170.3 C832.1,2167.9 837.6,2164.4 843.3,2162 C849,2159.5 857.8,2156.7 860.6,2155.6" stroke="#111" stroke-width="2.3"/>
<path d="M813.1,2180.7 C815.9,2179.5 824.4,2175.4 830.1,2173.3 C835.7,2171.1 841.3,2169.9 847,2167.6 C852.8,2165.4 861.6,2161.2 864.5,2160" stroke="#111" stroke-width="2.3"/>
<path d="M816.5,2184.9 C819.3,2183.9 827.9,2181.3 833.6,2178.9 C839.3,2176.5 844.9,2173 850.8,2170.6 C856.6,2168.2 865.5,2165.3 868.4,2164.3" stroke="#111" stroke-width="2.3"/>
<path d="M819.8,2189.2 C822.7,2187.9 831.4,2183.9 837.1,2181.8 C842.9,2179.6 848.6,2178.4 854.5,2176.2 C860.3,2174 869.3,2169.9 872.3,2168.6" stroke="#111" stroke-width="2.3"/>
<path d="M823.2,2193.4 C826.1,2192.4 834.8,2189.8 840.7,2187.4 C846.5,2185 852.2,2181.6 858.2,2179.2 C864.1,2176.8 873.2,2174 876.2,2173" stroke="#111" stroke-width="2.3"/>
<path d="M826.5,2197.6 C829.5,2196.4 838.3,2192.4 844.2,2190.3 C850.1,2188.2 855.9,2187 861.9,2184.8 C867.9,2182.7 877.1,2178.6 880.1,2177.3" stroke="#111" stroke-width="2.3"/>
<path d="M752.6,2104.7 L826.5,2197.6" stroke="#111" stroke-width="2.2"/>
<path d="M794.5,2081.9 L880.1,2177.3" stroke="#111" stroke-width="2.2"/>
<path d="M826.5,2197.6 L827.1,2203.2" stroke="#111" stroke-width="1.6"/>
<path d="M880.1,2177.3 L880.1,2179.8" stroke="#111" stroke-width="1.6"/>
<path d="M1055.5,1898.8 C1056.9,1897.9 1061.8,1895.5 1064.1,1893.2 C1066.4,1891 1069.4,1887.3 1069,1885.2 C1068.6,1883.2 1065.2,1882.1 1061.6,1881.2 C1058,1880.2 1049.8,1879.7 1047.5,1879.5" stroke="#c4261d" stroke-width="2"/>
<path d="M1056.7,1887.7 C1053.4,1889.4 1045.4,1894.4 1037,1898.2 C1028.6,1902 1016.5,1905.4 1006.2,1910.5 C996,1915.6 984.7,1923.8 975.4,1929 C966.2,1934.1 959,1937.5 950.8,1941.3 C942.6,1945.1 935.8,1947.6 926.2,1951.7 C916.5,1955.8 903,1961.3 892.9,1965.9 C882.9,1970.5 874.7,1974.7 865.9,1979.4 C857,1984.2 846.6,1989.8 840,1994.2 C833.4,1998.6 831.2,2001.5 826.2,2005.7 C821.2,2009.8 813.8,2015.9 810.2,2019.2 C806.6,2022.5 805.1,2022.3 804.5,2025.4 C803.9,2028.4 804.5,2032.3 806.5,2037.7 C808.5,2043 812.2,2051.2 816.3,2057.4 C820.4,2063.5 825.8,2069.7 831.1,2074.6 C836.5,2079.5 843.4,2083 848.4,2086.9 C853.3,2090.8 856.6,2096 860.7,2098 C864.8,2100.1 866.8,2100.7 873,2099.2 C879.1,2097.8 890.2,2092.3 897.6,2089.4 C905,2086.5 909.1,2086.9 917.3,2082 C925.6,2077.1 935.4,2066.8 947.1,2060 C958.9,2053.1 975.2,2048.3 987.8,2041 C1000.3,2033.7 1009.9,2024.2 1022.2,2016.4 C1034.5,2008.6 1045.3,2002.2 1061.6,1994.2 C1077.9,1986.2 1103.8,1975.9 1120,1968.4 C1136.2,1960.8 1146.5,1956.4 1158.6,1949 C1170.8,1941.7 1183.3,1932 1193.1,1924.4 C1203,1916.8 1215.7,1908.6 1217.8,1903.5 C1219.8,1898.3 1207.5,1895.3 1205.4,1893.6" stroke="#c4261d" stroke-width="2"/>
<path d="M1019.4,1411 C1021.9,1405.7 1029.1,1387.8 1034.2,1379 C1039.3,1370.2 1044.7,1364.3 1050.2,1358.1 C1055.8,1351.9 1064.6,1344.3 1067.5,1341.6" stroke="#111" stroke-width="2.7"/>
<path d="M1053.2,1337.2 L1067.5,1334.2 L1068.2,1357.6" stroke="#111" stroke-width="2.7"/>
<path d="M506.8,1779 C502.9,1771.5 490.6,1750.1 483.4,1733.9 C476.2,1717.8 469.3,1699.9 463.7,1682.2 C458.2,1664.6 453.7,1646.1 450.2,1628.1 C446.7,1610 444.2,1589.1 442.8,1573.9 C441.4,1558.7 441.4,1547.6 441.6,1536.9 C441.7,1526.3 443.2,1514.4 443.5,1509.9" stroke="#111" stroke-width="2"/>
<path d="M432.2,1529.6 L441.6,1503.7 L450.2,1514.8 L459.3,1519.2" stroke="#111" stroke-width="2"/>
<path d="M609.3,2026.5 C607.9,2028.4 603.8,2030.8 600.7,2037.6 C597.6,2044.4 593.7,2056.5 590.9,2067.2 C588,2077.8 585,2092.2 583.5,2101.6 C581.9,2111.1 582,2120.1 581.7,2123.8" stroke="#111" stroke-width="2"/>
<path d="M574.4,2110.3 L581.7,2125 L589.1,2113.9" stroke="#111" stroke-width="2"/>
<path d="M1100.8,1859.1 C1100.7,1862.2 1098.6,1865.9 1100,1877.6 C1101.5,1889.3 1107,1912.5 1109.4,1929.3 C1111.8,1946.2 1114.3,1962.2 1114.3,1978.6 C1114.3,1995 1112.6,2007.2 1109.3,2027.8 C1106,2048.3 1100.7,2075 1094.5,2101.6 C1088.4,2128.3 1078.5,2165 1072.4,2187.8 C1066.2,2210.6 1060.1,2229.9 1057.6,2238.3" stroke="#111" stroke-width="1.4"/>
<path d="M1049.7,2230.2 L1057.6,2240 L1073.6,2227.7" stroke="#111" stroke-width="1.6"/>
<path d="M1216.5,1801.3 C1221.2,1810.7 1236.8,1837.4 1244.8,1857.9 C1252.8,1878.4 1260.4,1910.5 1264.5,1924.4 C1268.6,1938.3 1268.1,1928.4 1269.4,1941.6 C1270.7,1954.7 1272.6,1982.6 1272.3,2003.1 C1272.1,2023.7 1270.1,2046 1268.2,2064.7 C1266.2,2083.4 1262,2106.8 1260.8,2115.2" stroke="#111" stroke-width="2"/>
<path d="M1209.1,1923.2 C1212.6,1927.9 1223.2,1936 1230,1951.4 C1236.8,1966.8 1245.2,1995.3 1249.7,2015.4 C1254.2,2035.6 1255.2,2055.5 1257.1,2072.1 C1258.9,2088.7 1260.2,2108 1260.8,2115.2" stroke="#111" stroke-width="2"/>
<path d="M1252.2,2097.9 L1260.8,2115.9 L1276.3,2081.9" stroke="#111" stroke-width="2"/>
<ellipse cx="419.4" cy="1219" rx="9.9" ry="11.8" stroke="#111" stroke-width="2"/>
<text transform="translate(419.4,1225.1) rotate(0)" font-size="19" fill="#262626" text-anchor="middle">1</text>
<ellipse cx="421.1" cy="1257.1" rx="10.8" ry="10.8" stroke="#111" stroke-width="2"/>
<text transform="translate(421.1,1262.8) rotate(0)" font-size="17" fill="#262626" text-anchor="middle">2</text>
<ellipse cx="415" cy="1291.6" rx="9.9" ry="11.1" stroke="#111" stroke-width="2"/>
<text transform="translate(415.7,1297.8) rotate(-8)" font-size="18" fill="#262626" text-anchor="middle">3</text>
<ellipse cx="414.5" cy="1325.3" rx="11.1" ry="12.8" stroke="#111" stroke-width="2"/>
<text transform="translate(415,1332.2) rotate(0)" font-size="19" fill="#262626" text-anchor="middle">4</text>
<ellipse cx="414.5" cy="1358.1" rx="11.8" ry="10.3" stroke="#111" stroke-width="2"/>
<text transform="translate(415,1364.2) rotate(-10)" font-size="17" fill="#262626" text-anchor="middle">5</text>
<ellipse cx="1034.2" cy="1726.6" rx="20.2" ry="24.6" stroke="#111" stroke-width="2"/>
<text transform="translate(1035.4,1740.1) rotate(0)" font-size="36" fill="#262626" text-anchor="middle">5</text>
<ellipse cx="539.6" cy="1843.5" rx="16.7" ry="22.7" stroke="#111" stroke-width="2"/>
<text transform="translate(543.8,1857.1) rotate(0)" font-size="34" fill="#262626" text-anchor="middle">3</text>
<text transform="translate(594.2,1879.2) rotate(-15)" font-size="30" fill="#262626" text-anchor="middle">&amp;</text>
<ellipse cx="633.9" cy="1892.3" rx="20.7" ry="23.4" stroke="#111" stroke-width="2"/>
<text transform="translate(632.7,1902.2) rotate(0)" font-size="34" fill="#262626" text-anchor="middle">4</text>
<ellipse cx="1141.3" cy="1904.6" rx="11.8" ry="12.3" stroke="#111" stroke-width="2"/>
<text transform="translate(1141.8,1910.8) rotate(-10)" font-size="18" fill="#262626" text-anchor="middle">2</text>
<ellipse cx="1136.4" cy="2016.7" rx="9.9" ry="15.8" stroke="#111" stroke-width="2"/>
<text transform="translate(1135.2,2026.5) rotate(0)" font-size="26" fill="#262626" text-anchor="middle">1</text>
<text transform="translate(410.8,1186.9) rotate(-0.8)" font-size="23" fill="#262626" textLength="268.4" lengthAdjust="spacingAndGlyphs">STAGES OF FILM PRODUCTION</text>
<text transform="translate(441.6,1227.6) rotate(-1.5)" font-size="24" fill="#262626" textLength="130.5" lengthAdjust="spacingAndGlyphs">DEVELOPMENT</text>
<text transform="translate(441.1,1263.3) rotate(-1.5)" font-size="22" fill="#262626" textLength="143.3" lengthAdjust="spacingAndGlyphs">PRE PRODUCTION</text>
<text transform="translate(436.1,1297.8) rotate(-3)" font-size="22" fill="#262626" textLength="101.5" lengthAdjust="spacingAndGlyphs">PRODUCTION</text>
<text transform="translate(437.9,1334.2) rotate(-5)" font-size="23" fill="#262626" textLength="147.3" lengthAdjust="spacingAndGlyphs">POST PRODUCTION</text>
<text transform="translate(432.9,1367.9) rotate(-4)" font-size="23" fill="#262626" textLength="132.5" lengthAdjust="spacingAndGlyphs">DISTRIBUTION</text>
<text transform="translate(394.3,1466) rotate(-25.5)" font-size="26" fill="#262626" textLength="126.8" lengthAdjust="spacingAndGlyphs">DARKROOM</text>
<text transform="translate(1038.4,1308.1) rotate(-2.6)" font-size="26" fill="#262626" textLength="242.6" lengthAdjust="spacingAndGlyphs">CINEMA (FINAL PROCESS</text>
<text transform="translate(1145,1334.2) rotate(-1)" font-size="25" fill="#262626" textLength="124.4" lengthAdjust="spacingAndGlyphs">OF A FILM)</text>
<text transform="translate(544.1,2157.8) rotate(-1)" font-size="22" fill="#262626" textLength="44.3" lengthAdjust="spacingAndGlyphs">VOID</text>
<text transform="translate(1186.9,2155.3) rotate(-2.5)" font-size="27" fill="#262626" textLength="108.8" lengthAdjust="spacingAndGlyphs">CIRCULATION</text>
<text transform="translate(1142.6,2194.7) rotate(-0.5)" font-size="23" fill="#262626" textLength="137.9" lengthAdjust="spacingAndGlyphs">TO IMITATE A</text>
<text transform="translate(1143.8,2226.7) rotate(-1)" font-size="24" fill="#262626" textLength="113.8" lengthAdjust="spacingAndGlyphs">FILM REEL</text>
<text transform="translate(980.5,2282.4) rotate(-1)" font-size="24" fill="#262626" textLength="174.4" lengthAdjust="spacingAndGlyphs">FREE ZONE WITH</text>
<text transform="translate(985.4,2318.3) rotate(-1.5)" font-size="24" fill="#262626" textLength="173.7" lengthAdjust="spacingAndGlyphs">STEPS TO REST?</text>
</svg>

<svg style="left:1500px;top:1200px;width:960px;height:540px;" viewBox="1500 1200 960 540" fill="none" stroke-linecap="round" stroke-linejoin="round" font-family="'Liberation Sans',sans-serif" stroke="none">
<path d="M1643.1,1264.8 C1655.4,1265.1 1688.3,1267.3 1717,1266.8 C1745.7,1266.3 1778.6,1264.7 1815.5,1261.9 C1852.5,1259 1894.6,1253.2 1938.6,1249.6 C1982.7,1245.9 2056.4,1241.3 2080,1239.7" stroke="#111" stroke-width="1.1"/>
<path d="M2006.8,1240.9 C2011.3,1240.7 2017.1,1240 2033.9,1239.7 C2050.7,1239.4 2091.1,1238.8 2107.8,1239.2 C2124.4,1239.6 2129.3,1241.7 2133.6,1242.2" stroke="#111" stroke-width="1.1"/>
<path d="M1656.7,1265.6 C1670.8,1265.7 1711.1,1267.1 1741.6,1266.3 C1772.2,1265.5 1803.2,1263.2 1840.1,1260.6 C1877.1,1258 1928.4,1252.5 1963.3,1250.8 C1998.2,1249 2035.1,1250.2 2049.5,1250" stroke="#111" stroke-width="1.8"/>
<path d="M2014.2,1249.8 C2020.7,1249.8 2044.1,1249.6 2053.6,1250 C2063,1250.5 2067.3,1249.3 2070.8,1252.5 C2074.3,1255.7 2073.5,1262.4 2074.5,1269.3 C2075.5,1276.1 2077.4,1285.3 2077,1293.9 C2076.6,1302.5 2072.9,1316.5 2072,1321" stroke="#111" stroke-width="1.8"/>
<path d="M1647.6,1271.7 C1648.3,1275.4 1650.6,1282 1651.8,1293.9 C1652.9,1305.8 1653.6,1322.6 1654.2,1343.1 C1654.8,1363.7 1654.8,1396.5 1655.4,1417 C1656.1,1437.5 1656.9,1446.6 1657.9,1466.3 C1658.9,1486 1661,1523.7 1661.6,1535.2" stroke="#111" stroke-width="1.8"/>
<path d="M1661.6,1535.2 C1661.8,1529.9 1663.2,1515.5 1662.8,1503.2 C1662.4,1490.9 1659.8,1468.3 1659.1,1461.3" stroke="#111" stroke-width="1.8"/>
<path d="M1654.2,1276.6 C1654.3,1283.6 1654.8,1305 1655,1318.5 C1655.1,1332 1655,1351.3 1655,1357.9" stroke="#111" stroke-width="1.8"/>
<path d="M1657.9,1466.3 C1659.1,1482.7 1663.7,1540.6 1665.3,1564.8 C1666.9,1589 1667.4,1609.5 1667.8,1611.6 C1668.1,1613.6 1667.3,1582.8 1667.3,1577.1" stroke="#111" stroke-width="1.8"/>
<path d="M1648.1,1272.9 C1649.7,1277.7 1651.3,1292.4 1657.9,1301.3 C1664.5,1310.1 1673.5,1318.5 1687.5,1325.9 C1701.4,1333.3 1720.3,1340.7 1741.6,1345.6 C1763,1350.5 1790.9,1353 1815.5,1355.4 C1840.1,1357.9 1866.8,1360 1889.4,1360.4 C1912,1360.8 1930.4,1360.4 1951,1357.9 C1971.5,1355.4 1991,1351.3 2012.5,1345.6 C2034,1339.8 2068.8,1327.1 2080,1323.4" stroke="#111" stroke-width="1.8"/>
<path d="M1960,1356.7 C1968.2,1354.4 1992.8,1348.3 2009.3,1343.1 C2025.7,1338 2045.8,1330.2 2058.5,1325.9 C2071.2,1321.6 2078.2,1317.5 2085.6,1317.3 C2093,1317.1 2101.6,1320.8 2102.8,1324.7 C2104.1,1328.6 2097.1,1336.8 2093,1340.7 C2088.9,1344.6 2088.1,1346 2078.2,1348.1 C2068.4,1350.1 2041.3,1352.2 2033.9,1353" stroke="#111" stroke-width="1.8"/>
<path d="M1654.2,1276.6 C1656.5,1282.8 1659.3,1303.3 1667.8,1313.6 C1676.2,1323.8 1688.3,1330.4 1704.7,1338.2 C1721.1,1346 1743.7,1354.6 1766.3,1360.4 C1788.8,1366.1 1819.6,1370.8 1840.1,1372.7 C1860.7,1374.5 1868.9,1373.9 1889.4,1371.5 C1909.9,1369 1938.6,1363.4 1963.3,1357.9 C1987.9,1352.4 2017.7,1343.1 2037.2,1338.2 C2056.6,1333.3 2072.9,1330 2080,1328.4" stroke="#111" stroke-width="1.8"/>
<path d="M1960,1361.6 C1972.3,1359.3 2013.4,1352.8 2033.9,1348.1 C2054.4,1343.3 2071.4,1337.2 2083.1,1333.3 C2094.8,1329.4 2100.6,1326.1 2104.1,1324.7" stroke="#111" stroke-width="1.8"/>
<path d="M1800.7,1364.1 C1807.3,1365.9 1827.4,1372.7 1840.1,1375.1 C1852.9,1377.6 1862.7,1379.7 1877.1,1378.8 C1891.4,1378 1907.9,1374.5 1926.3,1370.2 C1944.8,1365.9 1962.3,1358.7 1987.9,1353 C2013.5,1347.2 2064.7,1338.6 2080,1335.7" stroke="#111" stroke-width="1.8"/>
<path d="M1926.3,1362.8 C1932.5,1361.4 1951.4,1357 1963.3,1354.2 C1975.2,1351.4 1992,1347.4 1997.8,1346.1" stroke="#111" stroke-width="1.1"/>
<path d="M2078.2,1264.3 C2078.6,1269.3 2079.8,1284.8 2080.7,1293.9 C2081.5,1302.9 2082.7,1314.4 2083.1,1318.5" stroke="#111" stroke-width="1.8"/>
<path d="M2083.1,1266.8 C2083.3,1271.3 2083.7,1284.4 2083.9,1293.9 C2084.1,1303.3 2084.3,1318.5 2084.4,1323.4" stroke="#111" stroke-width="2.8"/>
<path d="M2094.2,1266.8 C2094.4,1271.3 2094.2,1287.5 2095.4,1293.9 C2096.7,1300.2 2101.8,1300.9 2101.6,1305 C2101.4,1309.1 2095.2,1313.4 2094.2,1318.5 C2093.2,1323.6 2095.2,1332.9 2095.4,1335.7" stroke="#111" stroke-width="1.8"/>
<path d="M2110.7,1263.1 C2110.8,1280.5 2110.9,1333.9 2111.5,1367.8 C2112,1401.6 2113.1,1434.7 2113.9,1466.3 C2114.7,1497.9 2116,1542.2 2116.4,1557.4" stroke="#111" stroke-width="1.8"/>
<path d="M2107.8,1284 C2108.2,1302.1 2109.1,1350.1 2110.2,1392.4 C2111.4,1434.7 2113.9,1513.5 2114.7,1537.7" stroke="#111" stroke-width="1.1"/>
<path d="M2043.7,1308.2 C2050.3,1305.6 2071.6,1296.6 2083.1,1292.6 C2094.6,1288.7 2102.6,1286 2112.7,1284.5 C2122.7,1283 2138.3,1283.7 2143.5,1283.5" stroke="#111" stroke-width="1.8"/>
<path d="M2137.3,1275.4 C2139.2,1277.1 2147.4,1281.8 2148.4,1285.3 C2149.4,1288.7 2144.3,1294.5 2143.5,1296.3" stroke="#111" stroke-width="1.8"/>
<path d="M1667.8,1338.2 C1684.2,1346 1734.7,1371.5 1766.3,1385 C1797.9,1398.5 1830.7,1408 1857.4,1419.5 C1884.1,1431 1914.8,1448.2 1926.3,1453.9" stroke="#111" stroke-width="1.8"/>
<path d="M1670.2,1334.5 C1686.2,1342.5 1735.1,1368.8 1766.3,1382.5 C1797.5,1396.3 1842.2,1411.3 1857.4,1417" stroke="#111" stroke-width="1.8"/>
<path d="M1650.5,1328.4 C1659.5,1331.6 1687,1339.4 1704.7,1348.1 C1722.3,1356.7 1747.8,1374.7 1756.4,1380.1" stroke="#111" stroke-width="1.1"/>
<path d="M1921.4,1449 C1922.2,1449.8 1925.9,1453.5 1926.3,1453.9 C1926.7,1454.4 1924.3,1451.9 1923.9,1451.5" stroke="#111" stroke-width="1.1"/>
<path d="M1666.5,1380.6 C1670.8,1380.2 1681.9,1378 1692.4,1378.1 C1702.9,1378.2 1718.2,1380.8 1729.3,1381.3 C1740.4,1381.8 1753.9,1381.3 1758.9,1381.3" stroke="#111" stroke-width="1.8"/>
<path d="M1651.8,1399.8 C1656.5,1400.1 1665.1,1402.6 1680.1,1401.7 C1695.1,1400.9 1722.8,1396.8 1741.6,1394.8 C1760.5,1392.9 1784.7,1390.7 1793.4,1389.9" stroke="#111" stroke-width="1.8"/>
<path d="M1663.6,1412.1 C1676.6,1411.9 1715.9,1411.8 1741.6,1410.9 C1767.4,1410 1805.3,1407.4 1818,1406.7" stroke="#111" stroke-width="1.8"/>
<path d="M1653,1436.7 C1661.6,1435.4 1681.7,1431 1704.7,1428.8 C1727.7,1426.7 1761.3,1424.8 1790.9,1423.9 C1820.4,1423 1866.8,1423.3 1882,1423.2" stroke="#111" stroke-width="1.8"/>
<path d="M1670.2,1452.7 C1682.1,1452.6 1717.4,1452.8 1741.6,1452 C1765.9,1451.2 1792.1,1449.4 1815.5,1447.8 C1838.9,1446.2 1870.9,1443.1 1882,1442.1" stroke="#111" stroke-width="1.8"/>
<path d="M1650.5,1470 C1657.5,1469.8 1673.1,1470.2 1692.4,1469.2 C1711.7,1468.2 1741.6,1465.6 1766.3,1463.8 C1790.9,1462 1815.1,1459.6 1840.1,1458.4 C1865.2,1457.2 1903.8,1456.7 1916.5,1456.4" stroke="#111" stroke-width="1.8"/>
<path d="M1909.1,1457.6 C1910.1,1471.4 1914,1521.1 1915.3,1540.1 C1916.5,1559.2 1916.3,1566.8 1916.5,1572.2" stroke="#111" stroke-width="2.8"/>
<path d="M1914,1460.1 C1914.8,1473.4 1917.7,1519.4 1918.9,1540.1 C1920.2,1560.9 1921,1577.1 1921.4,1584.5" stroke="#111" stroke-width="1.8"/>
<path d="M1673.9,1601.7 C1681.1,1602.6 1697.5,1606.5 1717,1607.1 C1736.5,1607.7 1762.2,1607.9 1790.9,1605.4 C1819.6,1602.9 1856.6,1596.8 1889.4,1591.9 C1922.2,1586.9 1956.1,1579.7 1987.9,1575.8 C2019.7,1572 2064.7,1569.7 2080,1568.5" stroke="#111" stroke-width="1.8"/>
<path d="M1960,1579.5 C1972.3,1578.3 2010.9,1574.2 2033.9,1572.2 C2056.9,1570.1 2080.5,1569.9 2097.9,1567.2 C2115.4,1564.6 2131.8,1558 2138.5,1556.1" stroke="#111" stroke-width="1.8"/>
<path d="M1672.7,1415.8 C1669.4,1418 1660,1421.7 1653,1429.3 C1646,1436.9 1638,1450.3 1630.8,1461.3 C1623.6,1472.4 1613.4,1490.1 1609.9,1495.8" stroke="#111" stroke-width="2.8"/>
<path d="M1614.8,1479.8 L1609.1,1497 L1627.1,1486" stroke="#111" stroke-width="2.8"/>
<path d="M1971.1,1362.8 C1971.7,1376 1973.3,1416.2 1974.8,1441.6 C1976.2,1467.1 1978.4,1497.5 1979.7,1515.5 C1981,1533.6 1982.2,1544.2 1982.7,1550" stroke="#111" stroke-width="1.8"/>
<ellipse cx="2043.7" cy="1412.1" rx="39.4" ry="39.9" stroke="#111" stroke-width="1.8"/>
<ellipse cx="2042.5" cy="1410.9" rx="36.9" ry="41.4" stroke="#111" stroke-width="1.8" transform="rotate(20 2042.5 1410.9)"/>
<ellipse cx="2041.3" cy="1413.3" rx="41.9" ry="36.9" stroke="#111" stroke-width="1.1" transform="rotate(-25 2041.3 1413.3)"/>
<ellipse cx="2033.9" cy="1407.2" rx="36.9" ry="40.6" stroke="#111" stroke-width="1.1" transform="rotate(40 2033.9 1407.2)"/>
<path d="M2084.4,1404.7 C2090.3,1404.2 2106.7,1402.9 2120.1,1401.7 C2133.4,1400.6 2157,1398.5 2164.4,1397.8" stroke="#111" stroke-width="1.8"/>
<path d="M2147.2,1390.4 L2164.4,1398.5 L2152.1,1412.1" stroke="#111" stroke-width="1.8"/>
<path d="M1976,1482.3 C1985.7,1481.2 2008.2,1477.9 2033.9,1476.1 C2059.5,1474.3 2113.9,1472.4 2129.9,1471.7" stroke="#111" stroke-width="1.8"/>
<path d="M1982.2,1495.8 L2021.6,1564.8" stroke="#111" stroke-width="2.8"/>
<path d="M1987.1,1559.8 L2021.6,1481" stroke="#111" stroke-width="2.8"/>
<path d="M2012.9,1574.6 L2025.3,1474.9" stroke="#111" stroke-width="1.8"/>
<path d="M2019.1,1490.9 L2061,1573.4" stroke="#111" stroke-width="1.8"/>
<path d="M2030.2,1559.8 L2057.3,1473.7" stroke="#111" stroke-width="1.8"/>
<path d="M2041.3,1481 C2044.1,1486.8 2049.1,1500.7 2058.5,1515.5 C2067.9,1530.3 2091.3,1560.7 2097.9,1569.7" stroke="#111" stroke-width="1.8"/>
<path d="M2073.3,1569.7 L2091.8,1477.3" stroke="#111" stroke-width="2.8"/>
<path d="M2072,1518 L2100.4,1567.2" stroke="#111" stroke-width="2.8"/>
<path d="M2097.9,1478.6 L2101.6,1569.7" stroke="#111" stroke-width="1.8"/>
<path d="M1980.9,1513.1 L1987.1,1582" stroke="#111" stroke-width="1.8"/>
<path d="M2090.5,1490.9 L2105.3,1554.9" stroke="#111" stroke-width="1.1"/>
<path d="M2019.1,1574.6 L2021.6,1476.1" stroke="#111" stroke-width="1.8"/>
<path d="M1982.2,1513.1 L2016.6,1559.8" stroke="#111" stroke-width="1.1"/>
<path d="M2036.3,1564.8 L2053.6,1481" stroke="#111" stroke-width="1.1"/>
<path d="M2068.4,1550 L2093,1490.9" stroke="#111" stroke-width="1.1"/>
<path d="M2009.3,1481 L2043.7,1562.3" stroke="#111" stroke-width="1.1"/>
<path d="M1974.8,1498.3 L1983.4,1551.2" stroke="#111" stroke-width="1.8"/>
<path d="M2101.6,1531.5 C2106.7,1532.3 2123.6,1536 2132.4,1536.4 C2141.2,1536.9 2150.9,1534.4 2154.5,1534" stroke="#111" stroke-width="1.8"/>
<path d="M2147.2,1524.1 C2149.2,1525.2 2157,1527.2 2159.5,1530.3 C2161.9,1533.4 2162.8,1539.1 2161.9,1542.6 C2161.1,1546.1 2155.8,1549.8 2154.5,1551.2" stroke="#111" stroke-width="1.8"/>
<path d="M2312.2,1543.1 L2341.7,1561.1" stroke="#111" stroke-width="1.8"/>
<path d="M2340.5,1548.8 C2341.1,1551.4 2343.8,1559.8 2344.2,1564.8 C2344.6,1569.7 2344.4,1575.6 2342.9,1578.3 C2341.5,1581 2336.8,1580.4 2335.6,1580.8" stroke="#111" stroke-width="1.8"/>
<ellipse cx="1752.7" cy="1390.4" rx="131.3" ry="80.8" stroke="#c4261d" stroke-width="1.1" transform="rotate(-3 1752.7 1390.4)"/>
<path d="M1654.2,1357.9 C1660.6,1354.6 1677.8,1343.5 1692.4,1338.2 C1707,1332.9 1723.2,1328.9 1741.6,1325.9 C1760.1,1322.9 1792.9,1321.2 1803.2,1320.2" stroke="#c4261d" stroke-width="1"/>
<path d="M1763.8,1479.8 C1764.6,1483.7 1767.8,1491.1 1768.7,1503.2 C1769.6,1515.3 1770,1535.6 1769.2,1552.5 C1768.4,1569.3 1766.3,1587.5 1763.8,1604.3 C1761.3,1621.2 1757.4,1638.8 1753.9,1653.6 C1750.5,1668.4 1744.7,1686.4 1742.9,1693" stroke="#c4261d" stroke-width="1.2"/>
<path d="M1740.4,1686.8 L1742.9,1694.2 L1756.4,1675.7" stroke="#c4261d" stroke-width="1.2"/>
<path d="M1646.8,1694.2 C1643.3,1689.5 1631.4,1675.1 1625.9,1665.9 C1620.4,1656.7 1616.2,1647 1613.6,1638.8 C1610.9,1630.6 1610.5,1620.3 1609.9,1616.6" stroke="#c4261d" stroke-width="1.6"/>
<path d="M1607.4,1631.4 L1609.9,1616.1 L1625.4,1627" stroke="#c4261d" stroke-width="1.6"/>
<path d="M1958.3,1638.8 C1957.5,1631.8 1954.9,1607.2 1953.4,1596.9 C1952,1586.7 1951.4,1586.1 1949.7,1577.1 C1948.1,1568 1944.6,1548.4 1943.6,1542.6" stroke="#7dbb3c" stroke-width="1.6"/>
<path d="M1959.6,1638.8 C1959.2,1633.9 1958.1,1617.5 1957.1,1609.3 C1956.1,1601 1955.1,1599.7 1953.4,1589.4 C1951.8,1579.1 1948.3,1554.5 1947.3,1547.5" stroke="#7dbb3c" stroke-width="1.6"/>
<path d="M1939.9,1562.3 L1943.6,1541.4 L1963.3,1562.3" stroke="#7dbb3c" stroke-width="1.4"/>
<text transform="translate(1552,1537.7) rotate(0)" font-size="23" fill="#262626" textLength="54.2" lengthAdjust="spacingAndGlyphs">STEPS</text>
<text transform="translate(1559.4,1568.5) rotate(0)" font-size="21" fill="#262626" textLength="27.1" lengthAdjust="spacingAndGlyphs">TO</text>
<text transform="translate(1564.3,1594.8) rotate(0)" font-size="22" fill="#262626" textLength="46.8" lengthAdjust="spacingAndGlyphs">REST</text>
<text transform="translate(1662.8,1725.5) rotate(-1.5)" font-size="24" fill="#c4261d" textLength="105.9" lengthAdjust="spacingAndGlyphs">VOID BUT</text>
<text transform="translate(2171.8,1295.1) rotate(-2.5)" font-size="27" fill="#262626" textLength="152.7" lengthAdjust="spacingAndGlyphs">DOME SHAPE</text>
<text transform="translate(2186.6,1328.8) rotate(-3)" font-size="25" fill="#262626" textLength="62.8" lengthAdjust="spacingAndGlyphs">ROOF</text>
<text transform="translate(2176.7,1409.1) rotate(-3)" font-size="26" fill="#262626" textLength="96" lengthAdjust="spacingAndGlyphs">TUNNEL?</text>
<text transform="translate(2182.9,1492.9) rotate(-3.5)" font-size="24" fill="#262626" textLength="114.5" lengthAdjust="spacingAndGlyphs">MIXTURE OF</text>
<text transform="translate(2189,1527.3) rotate(-3.5)" font-size="24" fill="#262626" textLength="118.2" lengthAdjust="spacingAndGlyphs">STRUCTURE &amp;</text>
<text transform="translate(2192.7,1561.8) rotate(-3)" font-size="24" fill="#262626" textLength="92.3" lengthAdjust="spacingAndGlyphs">VOIDS ?</text>
<text transform="translate(2366.3,1598.8) rotate(-2)" font-size="24" fill="#262626" textLength="43.1" lengthAdjust="spacingAndGlyphs">SEE</text>
<text transform="translate(2349.1,1630.8) rotate(-2)" font-size="24" fill="#262626" textLength="91.1" lengthAdjust="spacingAndGlyphs">THROUGH</text>
</svg>

<svg style="left:1700px;top:1640px;width:700px;height:700px;" viewBox="1700 1640 700 700" fill="none" stroke-linecap="round" stroke-linejoin="round" font-family="'Liberation Sans',sans-serif" stroke="none">
<path d="M1989,1666.6 C2001.1,1666.3 2033.1,1665.4 2061.6,1664.6 C2090.2,1663.9 2131.4,1663.4 2160.1,1662.2 C2188.9,1660.9 2212.7,1659 2234,1657.2 C2255.4,1655.5 2277.7,1652.2 2288.2,1651.8 C2298.7,1651.4 2296,1653 2296.8,1654.8 C2297.6,1656.6 2299.5,1656.9 2293.1,1662.7 C2286.8,1668.4 2270.1,1679.1 2258.6,1689.3 C2247.2,1699.4 2229.9,1718 2224.2,1723.7" stroke="#111" stroke-width="1.7"/>
<path d="M1987.8,1672 C1998,1671 2028.8,1667.3 2049.3,1665.9 C2069.8,1664.4 2088.3,1663.6 2110.9,1663.4 C2133.5,1663.2 2164.2,1663.8 2184.8,1664.6 C2205.3,1665.4 2221.3,1666.8 2234,1668.3 C2246.7,1669.9 2256.6,1673 2261.1,1674" stroke="#111" stroke-width="2.3"/>
<path d="M1840,1776.7 C1850.3,1767.4 1881.5,1737.9 1901.6,1721.3 C1921.7,1704.6 1948.6,1686.4 1960.7,1676.9 C1972.8,1667.5 1972,1666.7 1974.2,1664.6" stroke="#111" stroke-width="0.9"/>
<path d="M1734.2,1882.1 C1739.6,1879.3 1748.6,1879.6 1766.3,1865.4 C1783.9,1851.1 1815.5,1819.4 1840.1,1796.4 C1864.8,1773.4 1893.9,1745.9 1914,1727.5 C1934.1,1709 1951.8,1693 1960.8,1685.6 C1969.8,1678.2 1967.4,1682.7 1968.2,1683.1 C1969,1683.5 1972.7,1681.9 1965.7,1688.1 C1958.8,1694.2 1945.2,1702.4 1926.3,1720.1 C1907.5,1737.7 1877.9,1766.9 1852.5,1793.9 C1827,1821 1786.8,1867.8 1773.7,1882.6" stroke="#111" stroke-width="1.7"/>
<path d="M1751.5,1865.4 C1770.4,1847.3 1827.8,1790.5 1864.8,1757 C1901.7,1723.6 1955.1,1680.1 1973.1,1664.7" stroke="#111" stroke-width="0.9"/>
<path d="M1960.8,1675.3 C1965.3,1674.7 1968,1673.8 1987.9,1672 C2007.8,1670.3 2064.7,1665.9 2080,1664.7" stroke="#111" stroke-width="1.7"/>
<path d="M1847.4,1881.3 C1858.5,1867.8 1889.7,1824.3 1913.9,1800.1 C1938.1,1775.9 1976.7,1747.7 1992.7,1736 C2008.7,1724.3 2007,1730.9 2009.9,1729.9" stroke="#111" stroke-width="2.3"/>
<path d="M1854.8,1882.6 C1866.7,1870.1 1901.2,1831.3 1926.2,1807.5 C1951.2,1783.7 1991.9,1751 2005,1739.7" stroke="#111" stroke-width="1.7"/>
<path d="M1883.1,1861.6 L1938.5,1805" stroke="#111" stroke-width="3.2"/>
<path d="M1840,1871.5 C1856.4,1853.4 1903.4,1798 1938.5,1763.1 C1973.6,1728.2 2031.9,1679 2050.6,1662.2" stroke="#111" stroke-width="0.9"/>
<path d="M1876.9,1834.5 L1917.6,1789" stroke="#111" stroke-width="0.9"/>
<path d="M1844.9,1886.3 C1861.3,1867.4 1910.6,1807.9 1943.4,1773 C1976.3,1738.1 2025.5,1692.9 2041.9,1676.9" stroke="#111" stroke-width="0.9"/>
<path d="M1973,1725.7 C1983.7,1726.4 2009.9,1727.8 2037,1729.9 C2064.1,1732 2106.8,1736.2 2135.5,1738.5 C2164.2,1740.8 2192,1742 2209.4,1743.4 C2226.8,1744.9 2235,1746.5 2240.2,1747.1" stroke="#111" stroke-width="1.7"/>
<path d="M1987.8,1734.8 C1991.9,1734.4 1996,1732.3 2012.4,1732.3 C2028.8,1732.3 2061.6,1733.2 2086.3,1734.8 C2110.9,1736.5 2141.7,1741.1 2160.1,1742.2 C2178.6,1743.3 2190.9,1741.6 2197.1,1741.5" stroke="#111" stroke-width="1.7"/>
<path d="M2013.6,1720 C2021.6,1719.8 2045.4,1718.9 2061.6,1718.8 C2077.8,1718.7 2099,1718.5 2110.9,1719.3 C2122.8,1720.1 2129.4,1723 2133.1,1723.7" stroke="#111" stroke-width="1.7"/>
<path d="M2115.8,1728.2 C2123.2,1728.7 2143.5,1730.7 2160.1,1731.1 C2176.8,1731.5 2206.3,1730.7 2215.6,1730.6" stroke="#111" stroke-width="1.7"/>
<path d="M2296.8,1663.4 C2290.5,1673 2273.2,1700.5 2258.6,1721.3 C2244.1,1742 2223.8,1768.5 2209.4,1787.8 C2195,1807 2181.1,1823.9 2172.5,1837 C2163.8,1850.1 2160.1,1861.6 2157.7,1866.6" stroke="#111" stroke-width="1.7"/>
<path d="M2298,1669.6 C2288.2,1682.7 2257.8,1722.9 2238.9,1748.4 C2220.1,1773.8 2198.1,1802.3 2184.8,1822.2 C2171.4,1842.1 2163.2,1860.2 2158.9,1867.8" stroke="#111" stroke-width="1.7"/>
<path d="M2202,1744.7 C2205.7,1741.2 2214.7,1732.6 2224.2,1723.7 C2233.6,1714.9 2246.7,1701.6 2258.6,1691.7 C2270.5,1681.9 2289.4,1669.1 2295.6,1664.6" stroke="#111" stroke-width="1.7"/>
<path d="M2275.9,1700.3 C2272.2,1703 2260.1,1711.5 2253.7,1716.3 C2247.4,1721.1 2239.4,1728.3 2237.7,1729.1 C2236.1,1730 2238.3,1727.9 2243.9,1721.3 C2249.4,1714.6 2266.4,1694.6 2271,1689.3" stroke="#111" stroke-width="2.3"/>
<path d="M2300,1669.6 C2299.7,1685.1 2298,1727 2298,1763.1 C2298.1,1799.3 2299.1,1840.1 2300.5,1886.3 C2301.9,1932.4 2304.8,2002.1 2306.7,2039.9 C2308.5,2077.8 2310.8,2101.3 2311.6,2113.5" stroke="#111" stroke-width="0.9"/>
<path d="M2194.6,1823.5 C2195,1833.9 2195.8,1863.5 2197.1,1886.3 C2198.3,1909 2200,1934.5 2202,1960.1 C2204.1,1985.8 2208.2,2026.6 2209.4,2039.9" stroke="#111" stroke-width="1.7"/>
<path d="M2202,1821 C2201.6,1827.8 2200.2,1842.6 2199.5,1861.6 C2198.9,1880.7 2198.5,1923.2 2198.3,1935.5" stroke="#111" stroke-width="1.7"/>
<path d="M2189.7,1839.5 C2189.9,1851.4 2190.5,1886.7 2190.9,1910.9 C2191.3,1935.1 2192,1972.5 2192.2,1984.8" stroke="#111" stroke-width="1.7"/>
<path d="M2181.1,1851.8 C2181.3,1865.7 2181.7,1904.2 2182.3,1935.5 C2182.9,1966.9 2184.4,2022.5 2184.8,2039.9" stroke="#111" stroke-width="1.7"/>
<path d="M2183.9,1980 C2184,1992.3 2184.2,2034.4 2184.6,2053.9 C2185.1,2073.4 2186.1,2089.8 2186.4,2097" stroke="#111" stroke-width="0.9"/>
<path d="M2193.8,1980 C2195.2,1992.3 2200.1,2031.9 2202.4,2053.9 C2204.6,2075.8 2206.5,2102.1 2207.3,2111.8" stroke="#111" stroke-width="1.7"/>
<path d="M2204.8,1980 C2205.7,1992.3 2208.3,2027.2 2209.8,2053.9 C2211.2,2080.6 2212.8,2125.7 2213.5,2140.1" stroke="#111" stroke-width="1.7"/>
<path d="M1840,1880.1 C1852.3,1879.7 1888.4,1878.5 1913.9,1877.6 C1939.3,1876.8 1968.1,1876.4 1992.7,1875.2 C2017.3,1873.9 2037.8,1872.9 2061.6,1870.3 C2085.4,1867.6 2114.2,1862.7 2135.5,1859.2 C2156.9,1855.6 2180.7,1850.6 2189.7,1848.8" stroke="#111" stroke-width="1.7"/>
<path d="M1840,1885 C1856.4,1884.2 1913.1,1881.5 1938.5,1880.1 C1964,1878.7 1983.7,1877 1992.7,1876.4" stroke="#111" stroke-width="1.7"/>
<path d="M1992.7,1873.9 C2004.2,1873.1 2041.9,1870.7 2061.6,1869 C2081.3,1867.4 2097.8,1865.1 2110.9,1864.1 C2124,1863.1 2134.5,1862.8 2140.4,1862.9 C2146.4,1863 2145.6,1864.3 2146.6,1864.6" stroke="#111" stroke-width="1.7"/>
<path d="M1751.5,1887.5 C1758.1,1887 1774.1,1885.6 1790.9,1884.6 C1807.7,1883.5 1844.3,1881.5 1852.5,1881.4 C1860.6,1881.2 1842.1,1883.4 1840,1883.8" stroke="#111" stroke-width="1.7"/>
<path d="M1758.9,1878.9 L1847.5,1880.1" stroke="#111" stroke-width="2.3"/>
<path d="M2000.1,1741 C2000.1,1748.8 2000.9,1772.6 2000.1,1787.8 C1999.3,1802.9 1996,1824.7 1995.1,1832.1" stroke="#111" stroke-width="0.9"/>
<path d="M1993.9,1846.9 C1994.1,1851.4 1996.2,1866.2 1995.1,1873.9 C1994.1,1881.7 1989,1890.4 1987.8,1893.7" stroke="#111" stroke-width="0.9"/>
<path d="M2002.5,1876.9 C2012.4,1878.5 2043.6,1884.1 2061.6,1886.3 C2079.7,1888.4 2095.1,1889.3 2110.9,1890 C2126.7,1890.6 2148.9,1890 2156.4,1890" stroke="#111" stroke-width="1.7"/>
<path d="M1950.8,1888.2 C1961.1,1888.9 1989.8,1891.9 2012.4,1892.4 C2035,1892.9 2065.7,1890.8 2086.3,1891.2 C2106.8,1891.6 2120.9,1892.8 2135.5,1894.9 C2150.1,1896.9 2167.3,1902.1 2173.7,1903.5" stroke="#111" stroke-width="1.7"/>
<path d="M1947.1,1899.1 C1958,1898.2 1993.3,1893.7 2012.4,1893.7 C2031.5,1893.6 2047.3,1897 2061.6,1898.6 C2076,1900.1 2089.8,1902.7 2098.6,1903 C2107.4,1903.3 2111.9,1901 2114.6,1900.5" stroke="#111" stroke-width="1.7"/>
<path d="M1840,1989.7 C1848.2,1983.5 1870.8,1967.5 1889.3,1952.8 C1907.7,1938 1933.6,1914 1950.8,1901 C1968.1,1888.1 1982.2,1883.2 1992.7,1875.2 C2003.1,1867.2 2010.1,1856.7 2013.6,1853" stroke="#111" stroke-width="1.7"/>
<path d="M1863.4,1978.6 C1871.8,1971.4 1897.9,1950.9 1913.9,1935.5 C1929.9,1920.1 1951.8,1894.5 1959.4,1886.3" stroke="#111" stroke-width="1.7"/>
<path d="M1894.2,1958.9 L1938.5,1923.2" stroke="#111" stroke-width="0.9"/>
<path d="M1758.9,1872.8 C1759.1,1878.1 1760.7,1886.9 1760.1,1904.8 C1759.5,1922.6 1756.6,1955.1 1755.4,1980 C1754.2,2004.9 1753.2,2025.1 1752.9,2053.9 C1752.7,2082.6 1753.9,2122.4 1754.2,2152.4 C1754.5,2182.3 1754.2,2218.1 1754.7,2233.7 C1755.2,2249.2 1756.7,2243.5 1757.1,2245.5" stroke="#111" stroke-width="1.7"/>
<path d="M1751.7,1980 C1751.6,2000.5 1751,2060.7 1751.2,2103.1 C1751.4,2145.6 1752.7,2212.9 1752.9,2234.9" stroke="#111" stroke-width="1.7"/>
<path d="M1858.5,1883.8 C1857.4,1892.4 1853.5,1909.5 1852.3,1935.5 C1851.1,1961.5 1851.3,2022.5 1851.1,2039.9" stroke="#111" stroke-width="0.9"/>
<path d="M1848.6,1867.8 C1848.8,1879.1 1849.6,1906.8 1849.9,1935.5 C1850.1,1964.2 1849.9,2022.5 1849.9,2039.9" stroke="#111" stroke-width="1.7"/>
<path d="M1834,1887.5 C1834.8,1892.5 1837.8,1901.7 1838.9,1917.1 C1840,1932.5 1839.7,1957.2 1840.4,1980 C1841,2002.8 1842,2029.3 1842.8,2053.9 C1843.7,2078.5 1845.5,2107.2 1845.3,2127.8 C1845.1,2148.3 1842.8,2176.2 1841.6,2177 C1840.4,2177.8 1838.5,2140.1 1837.9,2132.7" stroke="#111" stroke-width="1.7"/>
<path d="M1848.8,1867.8 C1848.8,1883.2 1848.7,1941.2 1848.8,1959.9 C1848.8,1978.6 1848.7,1956.1 1849,1980 C1849.2,2003.9 1849.2,2066.2 1850.2,2103.1 C1851.2,2140.1 1853.9,2177.6 1855.1,2201.6 C1856.4,2225.6 1857.2,2239.6 1857.6,2247.2" stroke="#111" stroke-width="1.7"/>
<path d="M1858.6,1882.6 C1857.6,1888.4 1853.7,1904.2 1852.5,1917.1 C1851.2,1930 1851.4,1952.8 1851.2,1959.9" stroke="#111" stroke-width="0.9"/>
<path d="M1848.3,2220.1 C1848.4,2225.2 1848.5,2241.2 1849,2250.9 C1849.5,2260.5 1850.6,2278 1851.5,2278 C1852.3,2278 1853.3,2261.6 1853.9,2250.9 C1854.5,2240.2 1854.9,2220.1 1855.1,2213.9" stroke="#111" stroke-width="1.7"/>
<path d="M1759.1,2005.9 C1765.7,2005.2 1788,2003 1798.5,2002.2 C1809,2001.3 1818,2001.1 1821.9,2000.9" stroke="#111" stroke-width="2.3"/>
<path d="M1761.6,2010 C1765.7,2009.3 1773.9,2009 1786.2,2005.9 C1798.5,2002.7 1827.2,1993.5 1835.4,1991.1" stroke="#111" stroke-width="1.7"/>
<path d="M1840.4,1991.1 L1857.6,1980" stroke="#111" stroke-width="1.7"/>
<path d="M1743.8,2143.8 C1752.9,2140.7 1780.4,2131 1798.5,2125.3 C1816.6,2119.5 1843.7,2112 1852.7,2109.3" stroke="#111" stroke-width="2.3"/>
<path d="M1755.4,2144.5 C1764.6,2141.7 1795,2134 1810.8,2127.8 C1826.6,2121.5 1843.7,2110.3 1850.2,2106.8" stroke="#111" stroke-width="1.7"/>
<path d="M1755.4,2157.8 C1760.5,2153.6 1773.9,2141.9 1786.2,2132.7 C1798.5,2123.4 1822.1,2107.4 1829.3,2102.4" stroke="#111" stroke-width="1.7"/>
<path d="M1871.9,2071.1 C1872,2084.7 1872.5,2128.2 1872.4,2152.4 C1872.3,2176.6 1872,2203.1 1871.2,2216.4 C1870.3,2229.8 1868.9,2234.9 1867.5,2232.4 C1866,2230 1863.4,2219.1 1862.5,2201.6 C1861.7,2184.2 1861.5,2147.9 1862.5,2127.8 C1863.6,2107.6 1867.7,2088.8 1868.7,2081" stroke="#111" stroke-width="1.7"/>
<path d="M1861.3,2081.5 C1864,2081 1859,2078.1 1877.3,2078.5 C1895.6,2078.9 1941.7,2083.7 1970.9,2083.9 C2000,2084.1 2038.6,2080.4 2052.2,2079.7" stroke="#111" stroke-width="1.7"/>
<path d="M1876.1,2079.7 C1882.9,2080.8 1903.4,2084.8 1916.7,2085.9 C1930.1,2087 1949.5,2086.3 1956.1,2086.4" stroke="#111" stroke-width="1.7"/>
<path d="M1897,2073.1 C1905.2,2074 1925.7,2077.8 1946.3,2078.5 C1966.8,2079.2 1999.6,2078.2 2020.1,2077.3 C2040.7,2076.4 2061.2,2073.8 2069.4,2073.1" stroke="#111" stroke-width="1.7"/>
<path d="M1860.1,2236.1 C1866.2,2236.4 1878.5,2239.5 1897,2238.1 C1915.5,2236.6 1950.4,2230.1 1970.9,2227.5 C1991.4,2224.9 2006.6,2223.1 2020.1,2222.6 C2033.7,2222 2046.8,2224 2052.2,2224.3" stroke="#111" stroke-width="1.7"/>
<path d="M1968.4,2226.3 C1975,2227.4 1993.5,2233.2 2007.8,2233.2 C2022.2,2233.2 2046.8,2227.4 2054.6,2226.3" stroke="#111" stroke-width="1.7"/>
<path d="M2041.1,1989.9 C2041.7,2000.5 2043.3,2030.9 2044.8,2053.9 C2046.2,2076.9 2049.1,2102.3 2049.7,2127.8 C2050.3,2153.2 2048.7,2193.4 2048.5,2206.6" stroke="#111" stroke-width="4.2"/>
<path d="M2044.8,2010.8 C2045.3,2026.2 2046.9,2070.5 2047.7,2103.1 C2048.5,2135.8 2049.4,2189.3 2049.7,2206.6" stroke="#111" stroke-width="3.5"/>
<path d="M2048.5,2206.6 C2049.7,2211.1 2053.6,2234.5 2055.8,2233.7 C2058.1,2232.8 2061.8,2219.3 2062,2201.6 C2062.2,2184 2059.1,2148.3 2057.1,2127.8 C2055,2107.2 2050.9,2086.7 2049.7,2078.5" stroke="#111" stroke-width="2.3"/>
<path d="M2071.9,2093.3 C2072.1,2103.1 2072.7,2133.7 2073.1,2152.4 C2073.5,2171.1 2074.1,2196.5 2074.3,2205.3" stroke="#111" stroke-width="1.7"/>
<path d="M2073.1,2127.8 L2076.3,2228.7" stroke="#111" stroke-width="1.7"/>
<path d="M2172.8,2008.3 C2173,2020 2174.1,2055.7 2174.1,2078.5 C2174.1,2101.3 2173,2133.9 2172.8,2145" stroke="#111" stroke-width="2.3"/>
<path d="M2169.1,2024.3 L2170.9,2053.9" stroke="#111" stroke-width="1.7"/>
<path d="M2069.4,2222.6 C2073.5,2219.1 2083.8,2210.5 2094,2201.6 C2104.3,2192.8 2118.6,2178.7 2131,2169.6 C2143.3,2160.6 2158,2153.4 2167.9,2147.5 C2177.8,2141.5 2185.5,2137.6 2190.1,2133.9 C2194.7,2130.2 2194.6,2126.7 2195.5,2125.3" stroke="#111" stroke-width="1.7"/>
<path d="M2052.2,2079.7 C2063.2,2073.4 2097.9,2055.1 2118.6,2041.6 C2139.4,2028 2166.9,2005.7 2176.5,1998.5" stroke="#111" stroke-width="1.7"/>
<path d="M2103.9,2062.5 L2143.3,2034.2" stroke="#111" stroke-width="2.3"/>
<path d="M2071.9,2074.8 C2079.7,2071.3 2104.7,2063.1 2118.6,2053.9 C2132.6,2044.6 2145.9,2028 2155.6,2019.4 C2165.2,2010.8 2173,2005 2176.5,2002.2" stroke="#111" stroke-width="0.9"/>
<path d="M1970.9,1994.8 C1983.2,1995.2 2020.1,1997.2 2044.8,1997.2 C2069.4,1997.2 2095.5,1995.8 2118.6,1994.8 C2141.8,1993.7 2173,1991.7 2183.9,1991.1" stroke="#111" stroke-width="1.7"/>
<path d="M2029.1,1963.8 C2038.7,1967.1 2064.4,1976.4 2086.3,1983.5 C2108.1,1990.7 2147.8,2003 2160.1,2006.9" stroke="#111" stroke-width="4"/>
<path d="M2029.1,1963.8 C2022.2,1968.1 2006.1,1977 1987.8,1989.7 C1969.4,2002.4 1936.8,2026.8 1918.8,2039.9 C1900.8,2053.1 1886.3,2063.9 1879.8,2068.7" stroke="#111" stroke-width="4.5"/>
<path d="M2022.2,1967.5 C2009.6,1977 1969.4,2007.3 1946.3,2024.3 C1923.1,2041.4 1893.9,2062.3 1883.5,2069.9" stroke="#111" stroke-width="4"/>
<path d="M2029.1,1963.8 L2033.3,2014.3" stroke="#111" stroke-width="2.6"/>
<path d="M1969.7,2014.5 C1978.1,2012 2003.5,2004.3 2020.1,1999.7 C2036.8,1995.1 2061.2,1989 2069.4,1986.9" stroke="#111" stroke-width="4"/>
<path d="M1961,2020.6 C1970.9,2018 1998.6,2009.4 2020.1,2004.6 C2041.7,1999.8 2078.6,1994 2090.3,1991.8" stroke="#111" stroke-width="3"/>
<path d="M1940.1,2039.1 C1953.4,2036.6 1988.5,2029.3 2020.1,2024.3 C2051.7,2019.3 2111.5,2011.6 2129.7,2009.1" stroke="#111" stroke-width="4"/>
<path d="M1921.6,2053.9 C1938.1,2051.6 1987.1,2045.1 2020.1,2040.3 C2053.2,2035.6 2103.3,2028 2119.9,2025.6" stroke="#111" stroke-width="4"/>
<path d="M1900.7,2069.1 C1916.5,2068.2 1962.5,2067.5 1995.5,2063.7 C2028.6,2060 2081.7,2049.4 2098.9,2046.5" stroke="#111" stroke-width="4"/>
<path d="M1959.8,2070.6 C1969.9,2070.4 2001.1,2070.9 2020.1,2069.1 C2039.1,2067.4 2064.9,2061.6 2073.8,2060" stroke="#111" stroke-width="3.5"/>
<path d="M2172.5,1887.5 C2166.3,1897.6 2145.4,1932.4 2135.5,1947.8 C2125.7,1963.2 2117,1974.5 2113.4,1979.8" stroke="#111" stroke-width="2.3"/>
<path d="M2170,1888.7 C2160.1,1901.9 2122.6,1950.3 2110.9,1967.5 C2099.2,1984.8 2101.2,1987.6 2099.8,1992.2 C2098.4,1996.7 2096.3,2004.1 2102.3,1994.6 C2108.2,1985.2 2130,1945.4 2135.5,1935.5" stroke="#111" stroke-width="0.9"/>
<path d="M2202,1930.6 C2199.1,1935.1 2192.2,1945.4 2184.8,1957.7 C2177.4,1970 2162.2,1996.7 2157.7,2004.5" stroke="#111" stroke-width="2.3"/>
<path d="M2200.8,1931.8 C2197.3,1935.3 2188.7,1940.6 2179.8,1952.8 C2171,1964.9 2152.3,1995 2147.8,2004.5 C2143.3,2013.9 2143.7,2020.9 2152.8,2009.4 C2161.8,1997.9 2193.8,1947.8 2202,1935.5" stroke="#111" stroke-width="0.9"/>
<text transform="translate(1955.7,1960.1) rotate(-11)" font-size="33" fill="#262626" textLength="88.7" lengthAdjust="spacingAndGlyphs">VOID?</text>
</svg>

<svg style="left:2440px;top:1200px;width:460px;height:460px;" viewBox="2440 1200 460 460" fill="none" stroke-linecap="round" stroke-linejoin="round" font-family="'Liberation Sans',sans-serif" stroke="none">
<path d="M2478.2,1333.1 C2486,1325.1 2510.1,1300.1 2525,1285 C2539.8,1269.9 2555.8,1252.7 2567.5,1242.5 C2579.2,1232.3 2590.6,1226.9 2595.2,1223.8" stroke="#111" stroke-width="1.7"/>
<path d="M2486.7,1328.9 C2494.5,1321.1 2516.7,1298.4 2533.5,1282.1 C2550.2,1265.9 2578.3,1239.7 2587.3,1231.2" stroke="#111" stroke-width="1.7"/>
<path d="M2615.6,1224.1 C2624.1,1224.5 2643.9,1225.9 2666.6,1226.3 C2689.3,1226.8 2723.5,1227 2751.6,1226.9 C2779.7,1226.9 2821.2,1226.2 2835.1,1226.1" stroke="#111" stroke-width="1.7"/>
<path d="M2728.9,1227.8 C2734.1,1227.5 2749.7,1226.4 2760.1,1226.1 C2770.5,1225.7 2786,1225.6 2791.2,1225.5" stroke="#111" stroke-width="2.6"/>
<path d="M2835.1,1224.9 C2828.3,1229.3 2808,1241.4 2794.1,1251 C2780.1,1260.5 2765.3,1271.3 2751.6,1282.1 C2737.9,1293 2718.5,1310.5 2711.9,1316.1" stroke="#111" stroke-width="2.6"/>
<path d="M2830.9,1226.9 C2822.4,1231.9 2797.8,1243.7 2779.9,1256.7 C2762,1269.6 2735.8,1294.2 2723.3,1304.8 C2710.7,1315.4 2707.9,1317.8 2704.8,1320.4" stroke="#111" stroke-width="1.7"/>
<path d="M2508,1327.5 C2520.3,1326.3 2555.2,1322.5 2581.6,1320.4 C2608.1,1318.3 2641.1,1316.5 2666.6,1314.7 C2692.1,1313 2723.3,1310.7 2734.6,1309.9" stroke="#111" stroke-width="1.7"/>
<path d="M2710.5,1313.3 C2711,1327.5 2712.2,1370 2713.3,1398.3 C2714.5,1426.6 2716.4,1452.3 2717.6,1483.3 C2718.8,1514.2 2719.9,1567.1 2720.4,1583.8" stroke="#111" stroke-width="2.6"/>
<path d="M2707.7,1319 C2707.9,1332.2 2706.5,1366.2 2709.1,1398.3 C2711.7,1430.4 2720.5,1488.4 2723.3,1511.6 C2726,1534.7 2725.1,1532.8 2725.5,1537.1" stroke="#111" stroke-width="1.7"/>
<path d="M2731.8,1310.5 C2732.2,1325.1 2734.3,1369.5 2734.6,1398.3 C2734.8,1427.1 2733.2,1459.6 2733.2,1483.3 C2733.2,1506.9 2734.3,1530.5 2734.6,1539.9" stroke="#111" stroke-width="1.7"/>
<path d="M2706.3,1311.9 C2708.6,1311.4 2717.1,1308.8 2720.4,1309.1 C2723.7,1309.3 2727.5,1312.1 2726.1,1313.3 C2724.7,1314.5 2714.3,1315.7 2711.9,1316.1" stroke="#111" stroke-width="2.6"/>
<path d="M2835.1,1224.9 C2835.4,1239.7 2835.4,1279.7 2836.6,1313.3 C2837.7,1346.9 2840.8,1398.3 2842.2,1426.6 C2843.6,1454.9 2844.8,1467.9 2845.1,1483.3 C2845.3,1498.6 2843.9,1512.8 2843.6,1518.7" stroke="#111" stroke-width="1.7"/>
<path d="M2815.3,1231.2 C2816,1249.6 2817.1,1299.4 2819.6,1341.6 C2822.1,1383.9 2828.5,1460.8 2830.3,1484.7" stroke="#111" stroke-width="1"/>
<path d="M2486.7,1328.9 C2487.4,1345.2 2489.3,1391.4 2491,1426.6 C2492.6,1461.8 2494.4,1512.9 2496.7,1539.9 C2498.9,1566.9 2503.3,1580.5 2504.6,1588.6" stroke="#111" stroke-width="1.7"/>
<path d="M2495.2,1336 C2495.5,1355.8 2496.9,1416.2 2496.7,1454.9 C2496.4,1493.6 2494.3,1549.3 2493.8,1568.2" stroke="#111" stroke-width="1.7"/>
<path d="M2522.1,1557.7 C2532.1,1558.1 2557.6,1560.3 2581.6,1559.7 C2605.7,1559.1 2648.2,1555.5 2666.6,1554.1 C2685,1552.7 2687.8,1551.7 2692.1,1551.2" stroke="#111" stroke-width="1.7"/>
<path d="M2520.7,1574.5 C2526.2,1573.4 2533.7,1569.7 2553.3,1568.2 C2572.9,1566.7 2610,1566.9 2638.3,1565.4 C2666.6,1563.9 2709.1,1560.2 2723.3,1559.2" stroke="#111" stroke-width="1.7"/>
<path d="M2557.6,1565.4 C2566.3,1565.6 2589.4,1568.5 2610,1566.8 C2630.5,1565.2 2662.6,1558.6 2680.8,1555.5 C2698.9,1552.4 2712.6,1549.6 2719,1548.4" stroke="#111" stroke-width="1.7"/>
<path d="M2734.6,1554.1 C2742.1,1547.9 2765.3,1528.1 2779.9,1517.2 C2794.5,1506.4 2811.1,1495.9 2822.4,1488.9 C2833.7,1481.9 2843.6,1477.6 2847.9,1475.3" stroke="#111" stroke-width="2.6"/>
<path d="M2748.7,1571.1 C2756.3,1565.4 2779.4,1546.8 2794.1,1537.1 C2808.7,1527.4 2828.3,1517.2 2836.6,1513 C2844.8,1508.7 2842.5,1511.8 2843.6,1511.6" stroke="#111" stroke-width="2.6"/>
<path d="M2788.4,1505.9 L2825.2,1480.4" stroke="#111" stroke-width="1"/>
<path d="M2489.6,1330.3 C2495.5,1323.7 2511.5,1304.6 2525,1290.6 C2538.4,1276.7 2561.8,1254.5 2570.3,1246.7 C2578.8,1238.9 2561.8,1245.5 2576,1243.9 C2590.1,1242.3 2649.6,1237.2 2655.3,1237.4 C2660.9,1237.6 2623.6,1243.3 2610,1245.3 C2596.3,1247.4 2568.4,1248.4 2573.1,1249.6 C2577.9,1250.7 2620.3,1251.9 2638.3,1252.4 C2656.2,1252.9 2677,1249.3 2680.8,1252.4 C2684.5,1255.5 2670.9,1261.1 2660.9,1270.8 C2651,1280.5 2629.3,1302.9 2621.3,1310.5 C2613.3,1318 2614.2,1315.2 2612.8,1316.1" stroke="#cf2a20" stroke-width="2"/>
<path d="M2573.1,1246.7 C2581.6,1247.9 2605.9,1251.5 2624.1,1253.8 C2642.3,1256.2 2679.8,1254.3 2682.2,1260.9 C2684.5,1267.5 2650.3,1283.8 2638.3,1293.5 C2626.2,1303.2 2614.7,1314.7 2610,1319" stroke="#cf2a20" stroke-width="2"/>
<path d="M2496.7,1324.6 C2502.8,1318 2520.7,1297.3 2533.5,1285 C2546.2,1272.7 2566.5,1256.7 2573.1,1251" stroke="#cf2a20" stroke-width="1.4"/>
<path d="M2643.9,1258.1 C2647.7,1257.6 2663.3,1255 2666.6,1255.2 C2669.9,1255.5 2667.1,1258.5 2663.8,1259.5 C2660.5,1260.4 2649.6,1260.7 2646.8,1260.9" stroke="#cf2a20" stroke-width="2"/>
<path d="M2488.2,1330.3 C2499,1328.4 2533,1322.3 2553.3,1319 C2573.6,1315.7 2596.3,1311.2 2610,1310.5 C2623.6,1309.8 2642.5,1312.8 2635.4,1314.7 C2628.4,1316.6 2589.2,1319.7 2567.5,1321.8 C2545.7,1323.9 2515.5,1326.5 2505.1,1327.5" stroke="#cf2a20" stroke-width="2.2"/>
<path d="M2496.7,1313.3 C2496.2,1322.7 2495,1346.3 2493.8,1370 C2492.6,1393.6 2490,1421.4 2489.6,1454.9 C2489.1,1488.4 2490.7,1551.7 2491,1571.1" stroke="#cf2a20" stroke-width="2.4"/>
<path d="M2492.4,1333.1 C2491.8,1348.7 2488.7,1387.4 2488.7,1426.6 C2488.7,1465.8 2491.8,1544.6 2492.4,1568.2" stroke="#cf2a20" stroke-width="1.6"/>
<path d="M2547.1,1334.5 C2547.4,1349.9 2548.3,1390.3 2549.1,1426.6 C2549.9,1463 2551.4,1531.6 2551.9,1552.7" stroke="#cf2a20" stroke-width="1.2"/>
<path d="M2557.6,1338.8 C2558,1353.4 2559.3,1390.7 2560.4,1426.6 C2561.4,1462.5 2563.2,1532.8 2563.8,1554.1" stroke="#cf2a20" stroke-width="1.4"/>
<path d="M2612.8,1319 C2611.4,1327.5 2606.9,1347.3 2604.3,1370 C2601.7,1392.6 2598.6,1425.2 2597.2,1454.9 C2595.8,1484.7 2596,1532.8 2595.8,1548.4" stroke="#cf2a20" stroke-width="1.4"/>
<path d="M2601.5,1350.1 C2601,1355.3 2598.2,1374.2 2598.6,1381.3 C2599.1,1388.4 2602.4,1396.4 2604.3,1392.6 C2606.2,1388.8 2608.3,1370.4 2610,1358.6 C2611.6,1346.8 2613.5,1327.9 2614.2,1321.8" stroke="#cf2a20" stroke-width="1.2"/>
<path d="M2659.5,1269.4 C2659.7,1276.7 2661,1300.1 2660.4,1313.3 C2659.8,1326.5 2656.6,1342.8 2655.8,1348.7" stroke="#cf2a20" stroke-width="3"/>
<path d="M2549.9,1406.2 C2555.2,1402.5 2571.1,1392.8 2581.6,1384.1 C2592.1,1375.5 2607.6,1359.3 2612.8,1354.4" stroke="#cf2a20" stroke-width="2"/>
<path d="M2728.9,1348.7 C2732.7,1349.2 2740.7,1351.1 2751.6,1351.5 C2762.4,1352 2787,1351.5 2794.1,1351.5" stroke="#4a77c4" stroke-width="2"/>
<path d="M2774.2,1351.5 C2777.5,1352.7 2788.6,1357.1 2794.1,1358.6 C2799.5,1360.1 2804.7,1360.3 2806.8,1360.6" stroke="#4a77c4" stroke-width="2"/>
<path d="M2700.6,1369.4 C2704.4,1369 2718.5,1370.3 2723.3,1367.1 C2728,1363.9 2728,1353 2728.9,1350.1" stroke="#4a77c4" stroke-width="2"/>
<path d="M2700.6,1370 C2709.1,1370.4 2736,1372.5 2751.6,1372.8 C2767.2,1373 2787,1371.6 2794.1,1371.4" stroke="#4a77c4" stroke-width="2.4"/>
<path d="M2706.3,1367.1 C2713.8,1367.6 2739.3,1369.5 2751.6,1370 C2763.9,1370.4 2773.3,1369.7 2779.9,1370 C2786.5,1370.2 2789.3,1371.1 2791.2,1371.4" stroke="#4a77c4" stroke-width="2"/>
<path d="M2612.8,1434.5 C2617,1432.3 2626.9,1429.3 2638.3,1420.9 C2649.6,1412.5 2668.7,1392.6 2680.8,1384.1 C2692.8,1375.6 2705.6,1372.3 2710.5,1370" stroke="#4a77c4" stroke-width="1.8"/>
<path d="M2634,1439.3 C2639.5,1434.9 2653.6,1422.8 2666.6,1412.4 C2679.6,1402.1 2704.4,1382.9 2711.9,1377" stroke="#4a77c4" stroke-width="2.2"/>
<path d="M2621.3,1443.6 C2627.9,1437 2649.1,1415.5 2660.9,1403.9 C2672.7,1392.4 2686.9,1379.2 2692.1,1374.2" stroke="#4a77c4" stroke-width="1.4"/>
<path d="M2612.8,1450.7 C2621.8,1449.5 2646.3,1445.3 2666.6,1443.6 C2686.9,1441.9 2723.3,1441.2 2734.6,1440.8" stroke="#4a77c4" stroke-width="2"/>
<path d="M2634,1453.5 C2640.4,1451.4 2657.4,1441.9 2672.3,1440.8 C2687.1,1439.7 2714.8,1446 2723.3,1447" stroke="#4a77c4" stroke-width="2"/>
<path d="M2734.6,1443.6 C2739.8,1438.9 2754.4,1427.3 2765.7,1415.3 C2777.1,1403.2 2796.4,1378.7 2802.6,1371.4" stroke="#4a77c4" stroke-width="2.6"/>
<path d="M2617.9,1450.7 C2617.7,1460.8 2616.9,1492.9 2617,1511.6 C2617.1,1530.2 2618.2,1554.1 2618.5,1562.6" stroke="#4a77c4" stroke-width="2.8"/>
<path d="M2734.6,1440.8 C2734.3,1447.8 2732.9,1465.3 2733.2,1483.3 C2733.4,1501.2 2735.5,1537.5 2736,1548.4" stroke="#4a77c4" stroke-width="2.4"/>
<path d="M2792.7,1381.3 C2792.9,1388.8 2794.5,1405.8 2794.1,1426.6 C2793.6,1447.4 2790.5,1492.7 2789.8,1505.9" stroke="#4a77c4" stroke-width="1.8"/>
<path d="M2800.3,1392.6 C2800.4,1403 2801.2,1434.6 2801.1,1454.9 C2801.1,1475.2 2800,1504.5 2799.7,1514.4" stroke="#4a77c4" stroke-width="1.6"/>
<path d="M2720.4,1552.7 C2725.6,1549.6 2739.3,1541.6 2751.6,1534.2 C2763.9,1526.9 2784.2,1513.9 2794.1,1508.7 C2804,1503.6 2808.2,1504 2811.1,1503.1" stroke="#4a77c4" stroke-width="2.6"/>
<path d="M2730.3,1559.7 C2736.2,1555.5 2752.8,1543.4 2765.7,1534.2 C2778.7,1525 2801.1,1509.5 2808.2,1504.5" stroke="#4a77c4" stroke-width="2.2"/>
<path d="M2564.1,1633.4 C2564.6,1627.2 2565,1608.8 2567.5,1596.6 C2569.9,1584.3 2574.5,1571.5 2578.8,1559.7 C2583,1547.9 2589.1,1534.2 2593,1525.7 C2596.8,1517.2 2600.5,1511.6 2602,1508.7" stroke="#7dbb3c" stroke-width="3.4"/>
<path d="M2576,1530.8 L2601.5,1509.3 L2601.5,1532.8" stroke="#7dbb3c" stroke-width="2.4"/>
</svg>

<svg style="left:2520px;top:1660px;width:780px;height:600px;" viewBox="2520 1660 780 600" fill="none" stroke-linecap="round" stroke-linejoin="round" font-family="'Liberation Sans',sans-serif" stroke="none">
<path d="M2563.6,1711.4 C2569.6,1711.1 2585.8,1710.4 2599.1,1709.9 C2612.4,1709.4 2636.1,1708.7 2643.4,1708.4" stroke="#111" stroke-width="4.5"/>
<path d="M2563.6,1711.4 C2562.7,1724.2 2559,1750.8 2557.7,1788.2 C2556.5,1825.7 2556.3,1891.7 2556.3,1936 C2556.3,1980.3 2557,2021 2557.7,2054.2 C2558.5,2087.5 2553.8,2122.2 2560.7,2135.5 C2567.6,2148.8 2580.9,2136 2599.1,2134 C2617.3,2132.1 2658.2,2125.4 2670.1,2123.7" stroke="#111" stroke-width="3.7"/>
<path d="M2643.4,1708.4 C2646.4,1708.3 2656.7,1706.8 2661.2,1707.8 C2665.6,1708.8 2668.6,1713.3 2670.1,1714.3" stroke="#111" stroke-width="2.5"/>
<path d="M2661.2,1706.9 C2661.3,1725.4 2660.3,1774.7 2661.8,1817.8 C2663.3,1860.9 2667.7,1923.7 2670.1,1965.6 C2672.4,2007.4 2675.5,2042.4 2676,2069 C2676.5,2095.6 2673.5,2115.8 2673,2125.2" stroke="#111" stroke-width="3.7"/>
<path d="M2656.7,1735 C2657,1763.6 2657.7,1843.4 2658.2,1906.5 C2658.7,1969.5 2659.5,2078.9 2659.7,2113.4" stroke="#111" stroke-width="2.5"/>
<path d="M2565.1,1723.2 C2565.4,1753.7 2565.9,1840.9 2566.6,1906.5 C2567.3,1972 2569.1,2081.3 2569.6,2116.3" stroke="#111" stroke-width="1"/>
<path d="M2633.1,1717.3 C2633.4,1748.8 2634.2,1851.3 2634.6,1906.5 C2634.9,1961.6 2635.1,2024.7 2635.2,2048.3" stroke="#111" stroke-width="1"/>
<path d="M2560.7,2131.1 C2564.6,2132.3 2571,2138.2 2584.3,2138.5 C2597.6,2138.7 2631.1,2133.6 2640.5,2132.6" stroke="#111" stroke-width="1.8"/>
<path d="M2597.6,1732.1 Q2581.5,1744.9 2569.6,1761.6 Q2607.4,1741.3 2649.4,1732.1 Q2600,1762.1 2560.7,1804.5 Q2603.8,1780.8 2651.7,1769.9 Q2603.3,1800.3 2565.1,1842.9 Q2601.1,1831.1 2639,1829.6 Q2594.1,1854.2 2557.7,1890.2 Q2599.9,1879 2643.4,1879.9 Q2595.7,1903.3 2556.3,1939 Q2602.7,1921.2 2652.3,1916.8 Q2603,1946.1 2563.6,1987.7 Q2607.2,1970.3 2653.8,1965.6 Q2603.3,1992.4 2562.2,2032.1 Q2609.8,2011.8 2661.2,2005.5 Q2607.8,2031.9 2563.6,2072 Q2611.1,2050.3 2662.7,2042.4 Q2622.7,2069.2 2591.7,2106 Q2629.9,2093.1 2670.1,2091.2 Q2633.6,2104.2 2602.1,2126.7" stroke="#111" stroke-width="3.7"/>
<path d="M2661.2,1714.3 C2680.4,1712.6 2742.5,1706.9 2776.5,1704 C2810.4,1701 2837.8,1698.7 2865.1,1696.6 C2892.5,1694.5 2927.9,1692.2 2940.5,1691.3" stroke="#111" stroke-width="2.5"/>
<path d="M2556.3,1726.2 C2573.3,1724.7 2616.6,1719.3 2658.2,1717.3 C2699.9,1715.3 2759,1716.4 2806,1714.3 C2853.1,1712.3 2918.1,1706.5 2940.5,1704.9" stroke="#111" stroke-width="1"/>
<path d="M2749.9,1712.9 C2754.3,1712 2766.4,1708.5 2776.5,1707.8 C2786.6,1707.2 2810.4,1707.9 2810.4,1709 C2810.4,1710.1 2786.1,1713.4 2776.5,1714.3 C2766.8,1715.2 2756.8,1714.3 2752.8,1714.3" stroke="#111" stroke-width="1.8"/>
<path d="M2806,1714.3 C2820.8,1712.3 2872.5,1704.4 2894.7,1701.9 C2916.9,1699.5 2931.6,1700 2939,1699.6" stroke="#111" stroke-width="1.8"/>
<path d="M2959.7,1692.2 C2960.7,1692.9 2965.1,1685.5 2965.6,1696.6 C2966.1,1707.7 2962.7,1728.6 2962.7,1758.7 C2962.7,1788.7 2964.9,1840.4 2965.6,1876.9 C2966.4,1913.4 2967.3,1933.1 2967.1,1977.4 C2966.9,2021.7 2964.6,2115.3 2964.1,2142.9" stroke="#111" stroke-width="3.7"/>
<path d="M2952.3,1714.3 C2952.6,1736.5 2953.1,1803.5 2953.8,1847.3 C2954.5,1891.2 2956.3,1955.7 2956.8,1977.4" stroke="#111" stroke-width="1"/>
<path d="M2956.8,1708.4 C2957.2,1741.4 2958.2,1861.6 2959.7,1906.5 C2961.2,1951.3 2964.6,1965.6 2965.6,1977.4" stroke="#111" stroke-width="1.8"/>
<path d="M2964.1,1743.9 C2965.4,1756.2 2968.8,1787.7 2971.5,1817.8 C2974.2,1847.8 2978.9,1906.5 2980.4,1924.2" stroke="#111" stroke-width="1.8"/>
<path d="M2961.2,1992.2 C2960.9,2002.5 2959.7,2031.1 2959.7,2054.2 C2959.7,2077.4 2960.9,2118.3 2961.2,2131.1" stroke="#111" stroke-width="1"/>
<ellipse cx="2796.6" cy="1893.2" rx="99" ry="170" stroke="#111" stroke-width="1.8" transform="rotate(28 2796.6 1893.2)"/>
<ellipse cx="2794.2" cy="1894.6" rx="103.4" ry="165.5" stroke="#111" stroke-width="1.8" transform="rotate(31 2794.2 1894.6)"/>
<ellipse cx="2798.6" cy="1890.2" rx="94.6" ry="174.4" stroke="#111" stroke-width="1" transform="rotate(26 2798.6 1890.2)"/>
<ellipse cx="2800.1" cy="1897.6" rx="88.7" ry="153.7" stroke="#111" stroke-width="1" transform="rotate(33 2800.1 1897.6)"/>
<path d="M2853.3,1751.3 Q2801.4,1777.9 2758.7,1817.8 Q2814.5,1780.6 2878.4,1760.1 Q2794.8,1803.4 2726.2,1868 Q2799.8,1817.8 2884.3,1789.7 Q2857.4,1804.8 2835.6,1826.7 Q2853.3,1834.7 2868.1,1847.3 Q2868.7,1853.5 2871,1859.2 Q2792.3,1899.6 2705.5,1916.8 Q2789.9,1911.3 2869.6,1882.8 Q2794.1,1935.6 2707,1965.6 Q2790.5,1955.4 2868.1,1922.7 Q2788.8,1975.2 2698.1,2004 Q2766.7,1993.2 2829.7,1964.1 Q2776.1,2001 2714.4,2021.7 Q2762.9,2008.9 2806,1983.3 Q2772.7,2014.3 2732.1,2035 Q2798.2,1993.8 2850.3,1936" stroke="#111" stroke-width="3.7"/>
<path d="M2770.5,1801.5 C2774.5,1798.3 2788.3,1785.8 2794.2,1782.3 C2800.1,1778.9 2804,1781.1 2806,1780.8" stroke="#111" stroke-width="3.7"/>
<path d="M2652.3,2135.5 C2673,2125.9 2736.1,2098.3 2776.5,2077.9 C2816.9,2057.4 2862.2,2029.4 2894.7,2012.9 C2927.2,1996.4 2958.7,1984.5 2971.5,1978.9" stroke="#111" stroke-width="4.6"/>
<path d="M2871,2020.2 C2874,2019 2883.4,2014.6 2888.8,2012.9 C2894.2,2011.1 2901.1,2010.4 2903.6,2009.9" stroke="#111" stroke-width="6"/>
<path d="M2971.5,1977.4 C2970.5,1985.3 2968.1,2001.5 2965.6,2024.7 C2963.2,2047.8 2958.2,2101 2956.8,2116.3" stroke="#111" stroke-width="4"/>
<path d="M2705.5,2125.2 C2722.3,2124.7 2764.6,2122.7 2806,2122.2 C2847.4,2121.7 2929.2,2122.2 2953.8,2122.2" stroke="#111" stroke-width="4.5"/>
<path d="M2652.3,2137 C2673,2136 2723,2133.8 2776.5,2131.1 C2829.9,2128.4 2940.3,2122.5 2973,2120.7" stroke="#111" stroke-width="1.8"/>
<path d="M2690.7,2134 C2700.1,2135.5 2722.8,2142.4 2746.9,2142.9 C2771,2143.4 2803.5,2138 2835.6,2137 C2867.6,2136 2921.8,2137 2939,2137" stroke="#111" stroke-width="3.7"/>
<path d="M2628.7,2148.8 C2643.4,2147.3 2682.9,2142.4 2717.3,2140 C2751.8,2137.5 2799.1,2135.5 2835.6,2134 C2872,2132.6 2919.3,2131.6 2936.1,2131.1" stroke="#111" stroke-width="1"/>
<path d="M2705.5,2125.2 C2707.5,2123.9 2710.4,2119.3 2717.3,2117.8 C2724.2,2116.3 2732.1,2115.8 2746.9,2116.3 C2761.7,2116.8 2796.2,2120 2806,2120.7" stroke="#111" stroke-width="2.5"/>
<path d="M2705.5,2125.2 Q2742.6,2107.8 2773.5,2080.8 Q2761.8,2105.1 2743.9,2125.2 Q2788.7,2101.3 2825.2,2066.1 Q2807.5,2095.7 2782.4,2119.3 Q2836.4,2083.1 2878.4,2033.6 Q2854.1,2080.6 2817.8,2119.3 Q2883,2073.4 2933.1,2011.4 Q2899,2068.9 2850.3,2114.8 Q2912.3,2070.8 2959.7,2011.4 Q2939.2,2069.3 2903.6,2119.3 Q2916.3,2114.3 2927.2,2106" stroke="#111" stroke-width="3.7"/>
<path d="M2803.1,2046.9 C2808.5,2044.9 2824.2,2038.7 2835.6,2035 C2846.9,2031.3 2865.1,2026.4 2871,2024.7" stroke="#111" stroke-width="1"/>
<path d="M2896.2,1820.1 C2903.3,1815.8 2925.5,1801.9 2939,1794.1 C2952.6,1786.4 2965.1,1778.5 2977.4,1773.4 C2989.8,1768.4 3007,1765.6 3012.9,1764" stroke="#111" stroke-width="1.8"/>
<path d="M3004,1755.7 C3005.8,1756.2 3013.4,1755 3014.4,1758.7 C3015.4,1762.4 3010.7,1774.7 3010,1777.9" stroke="#111" stroke-width="1.8"/>
<path d="M2908,1949.3 C2910.9,1946.4 2922.5,1938.7 2925.7,1931.6 C2928.9,1924.4 2924,1915.6 2927.2,1906.5 C2930.4,1897.3 2942,1885.8 2944.9,1876.9 C2947.9,1868 2947.1,1862.1 2944.9,1853.3 C2942.7,1844.4 2932.4,1834.5 2931.6,1823.7 C2930.9,1812.9 2940.7,1801.5 2940.5,1788.2 C2940.3,1774.9 2935.3,1754.2 2930.2,1743.9 C2925,1733.5 2917.3,1730 2909.5,1726.2 C2901.6,1722.3 2892.7,1720.4 2882.9,1720.8 C2873,1721.2 2863.2,1727.4 2850.3,1728.5 C2837.5,1729.7 2817.3,1727.5 2806,1727.6 C2794.7,1727.7 2792.2,1726 2782.4,1729.1 C2772.5,1732.2 2759.2,1743.3 2746.9,1746.3 C2734.6,1749.2 2717.8,1744.3 2708.5,1746.8 C2699.1,1749.4 2693.2,1754.7 2690.7,1761.6 C2688.3,1768.5 2691.8,1779.9 2693.7,1788.2 C2695.6,1796.6 2702,1803.5 2702,1811.9 C2702,1820.2 2695.8,1832.6 2693.7,1838.5 C2691.6,1844.4 2690,1845.9 2689.3,1847.3" stroke="#8dc63f" stroke-width="1.5"/>
<path d="M2906.5,1939 L2900.6,1964.1 L2925.7,1958.2" stroke="#8dc63f" stroke-width="1.5"/>
<path d="M2687.8,1828.1 L2690.1,1848.2 L2721.8,1823.1" stroke="#8dc63f" stroke-width="1.5"/>
<text transform="translate(3039.5,1756.8) rotate(-4)" font-size="23" fill="#262626" textLength="122.7" lengthAdjust="spacingAndGlyphs">SOME KIND</text>
<text transform="translate(3041.4,1797.5) rotate(-2.5)" font-size="22" fill="#262626" textLength="138.6" lengthAdjust="spacingAndGlyphs">OF STRUCTURE</text>
<text transform="translate(3037.7,1841.8) rotate(-3)" font-size="22" fill="#262626" textLength="140.4" lengthAdjust="spacingAndGlyphs">TO FILL VOID?</text>
<text transform="translate(2678.1,2215.1) rotate(-1)" font-size="27" fill="#262626" textLength="136.7" lengthAdjust="spacingAndGlyphs">PLAN VIEW</text>
</svg>

</div>
</body>
</html>
